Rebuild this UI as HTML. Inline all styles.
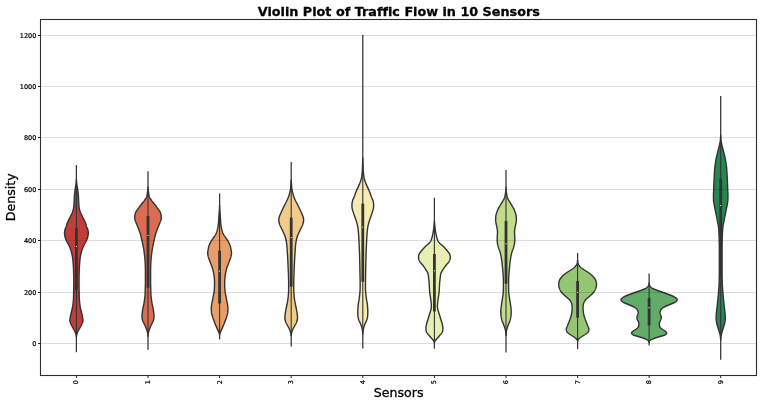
<!DOCTYPE html>
<html lang="en"><head><meta charset="utf-8"><title>Violin Plot of Traffic Flow in 10 Sensors</title>
<style>
html,body{margin:0;padding:0;background:#fff;}
body{width:763px;height:402px;overflow:hidden;}
svg{display:block;}
text{font-family:"DejaVu Sans","Liberation Sans",sans-serif;fill:#000;stroke:#000;stroke-width:0.3px;stroke-linejoin:round;font-variant-ligatures:none;}
.tk text{stroke-width:0.22px;}
</style></head><body>
<svg width="763" height="402" viewBox="0 0 763 402">
<rect width="763" height="402" fill="#fff"/>
<path d="M76.40,179.5 L76.37,180.0 L76.33,180.5 L76.28,181.0 L76.24,181.5 L76.19,182.0 L76.15,182.5 L76.10,183.0 L76.05,183.5 L76.00,184.0 L75.94,184.5 L75.87,185.0 L75.80,185.5 L75.71,186.0 L75.62,186.5 L75.53,187.0 L75.43,187.5 L75.34,188.0 L75.25,188.5 L75.17,189.0 L75.10,189.5 L75.03,190.0 L74.97,190.5 L74.90,191.0 L74.84,191.5 L74.77,192.0 L74.71,192.5 L74.66,193.0 L74.60,193.5 L74.55,194.0 L74.50,194.5 L74.46,195.0 L74.42,195.5 L74.39,196.0 L74.36,196.5 L74.33,197.0 L74.31,197.5 L74.29,198.0 L74.27,198.5 L74.25,199.0 L74.22,199.5 L74.20,200.0 L74.18,200.5 L74.15,201.0 L74.13,201.5 L74.11,202.0 L74.09,202.5 L74.06,203.0 L74.03,203.5 L74.00,204.0 L73.97,204.5 L73.93,205.0 L73.89,205.5 L73.84,206.0 L73.79,206.5 L73.73,207.0 L73.67,207.5 L73.60,208.0 L73.52,208.5 L73.41,209.0 L73.29,209.5 L73.15,210.0 L73.00,210.5 L72.84,211.0 L72.67,211.5 L72.50,212.0 L72.32,212.5 L72.12,213.0 L71.90,213.5 L71.67,214.0 L71.43,214.5 L71.19,215.0 L70.94,215.5 L70.70,216.0 L70.45,216.5 L70.19,217.0 L69.92,217.5 L69.64,218.0 L69.37,218.5 L69.10,219.0 L68.84,219.5 L68.60,220.0 L68.37,220.5 L68.14,221.0 L67.91,221.5 L67.69,222.0 L67.48,222.5 L67.28,223.0 L67.10,223.5 L66.94,224.0 L66.80,224.5 L66.67,225.0 L66.54,225.5 L66.40,226.0 L66.23,226.5 L66.03,227.0 L65.81,227.5 L65.59,228.0 L65.37,228.5 L65.18,229.0 L65.02,229.5 L64.90,230.0 L64.81,230.5 L64.72,231.0 L64.64,231.5 L64.57,232.0 L64.53,232.5 L64.50,233.0 L64.51,233.5 L64.54,234.0 L64.59,234.5 L64.67,235.0 L64.75,235.5 L64.85,236.0 L64.94,236.5 L65.05,237.0 L65.19,237.5 L65.34,238.0 L65.51,238.5 L65.69,239.0 L65.88,239.5 L66.08,240.0 L66.28,240.5 L66.52,241.0 L66.78,241.5 L67.06,242.0 L67.35,242.5 L67.64,243.0 L67.92,243.5 L68.20,244.0 L68.45,244.5 L68.70,245.0 L68.95,245.5 L69.19,246.0 L69.43,246.5 L69.66,247.0 L69.88,247.5 L70.08,248.0 L70.28,248.5 L70.46,249.0 L70.64,249.5 L70.82,250.0 L70.98,250.5 L71.14,251.0 L71.29,251.5 L71.42,252.0 L71.55,252.5 L71.67,253.0 L71.79,253.5 L71.91,254.0 L72.02,254.5 L72.12,255.0 L72.22,255.5 L72.32,256.0 L72.40,256.5 L72.49,257.0 L72.56,257.5 L72.63,258.0 L72.69,258.5 L72.75,259.0 L72.81,259.5 L72.86,260.0 L72.91,260.5 L72.96,261.0 L73.01,261.5 L73.05,262.0 L73.09,262.5 L73.13,263.0 L73.17,263.5 L73.20,264.0 L73.23,264.5 L73.27,265.0 L73.30,265.5 L73.33,266.0 L73.36,266.5 L73.39,267.0 L73.41,267.5 L73.44,268.0 L73.46,268.5 L73.49,269.0 L73.51,269.5 L73.53,270.0 L73.55,270.5 L73.57,271.0 L73.59,271.5 L73.60,272.0 L73.61,272.5 L73.63,273.0 L73.64,273.5 L73.65,274.0 L73.67,274.5 L73.68,275.0 L73.69,275.5 L73.70,276.0 L73.71,276.5 L73.72,277.0 L73.73,277.5 L73.74,278.0 L73.74,278.5 L73.75,279.0 L73.75,279.5 L73.75,280.0 L73.75,280.5 L73.75,281.0 L73.75,281.5 L73.75,282.0 L73.75,282.5 L73.75,283.0 L73.74,283.5 L73.74,284.0 L73.74,284.5 L73.74,285.0 L73.73,285.5 L73.73,286.0 L73.73,286.5 L73.72,287.0 L73.72,287.5 L73.72,288.0 L73.71,288.5 L73.71,289.0 L73.70,289.5 L73.70,290.0 L73.69,290.5 L73.68,291.0 L73.67,291.5 L73.66,292.0 L73.64,292.5 L73.63,293.0 L73.61,293.5 L73.60,294.0 L73.59,294.5 L73.58,295.0 L73.57,295.5 L73.56,296.0 L73.54,296.5 L73.53,297.0 L73.52,297.5 L73.50,298.0 L73.48,298.5 L73.45,299.0 L73.42,299.5 L73.38,300.0 L73.34,300.5 L73.29,301.0 L73.25,301.5 L73.20,302.0 L73.15,302.5 L73.10,303.0 L73.04,303.5 L72.98,304.0 L72.92,304.5 L72.85,305.0 L72.78,305.5 L72.70,306.0 L72.62,306.5 L72.53,307.0 L72.43,307.5 L72.33,308.0 L72.23,308.5 L72.12,309.0 L72.01,309.5 L71.90,310.0 L71.78,310.5 L71.66,311.0 L71.53,311.5 L71.40,312.0 L71.27,312.5 L71.14,313.0 L71.02,313.5 L70.90,314.0 L70.79,314.5 L70.68,315.0 L70.57,315.5 L70.46,316.0 L70.36,316.5 L70.27,317.0 L70.18,317.5 L70.10,318.0 L70.02,318.5 L69.94,319.0 L69.87,319.5 L69.82,320.0 L69.80,320.5 L69.84,321.0 L69.94,321.5 L70.09,322.0 L70.28,322.5 L70.49,323.0 L70.70,323.5 L70.90,324.0 L71.10,324.5 L71.33,325.0 L71.57,325.5 L71.83,326.0 L72.10,326.5 L72.36,327.0 L72.63,327.5 L72.90,328.0 L73.17,328.5 L73.47,329.0 L73.77,329.5 L74.07,330.0 L74.36,330.5 L74.64,331.0 L74.89,331.5 L75.10,332.0 L75.29,332.5 L75.48,333.0 L75.66,333.5 L75.83,334.0 L75.99,334.5 L76.12,335.0 L76.22,335.5 L76.30,336.0 L76.36,336.5 L76.40,337.0 L76.40,337.0 L76.44,336.5 L76.50,336.0 L76.58,335.5 L76.68,335.0 L76.81,334.5 L76.97,334.0 L77.14,333.5 L77.32,333.0 L77.51,332.5 L77.70,332.0 L77.91,331.5 L78.16,331.0 L78.44,330.5 L78.73,330.0 L79.03,329.5 L79.33,329.0 L79.63,328.5 L79.90,328.0 L80.17,327.5 L80.44,327.0 L80.70,326.5 L80.97,326.0 L81.23,325.5 L81.47,325.0 L81.70,324.5 L81.90,324.0 L82.10,323.5 L82.31,323.0 L82.52,322.5 L82.71,322.0 L82.86,321.5 L82.96,321.0 L83.00,320.5 L82.98,320.0 L82.93,319.5 L82.86,319.0 L82.78,318.5 L82.70,318.0 L82.62,317.5 L82.53,317.0 L82.44,316.5 L82.34,316.0 L82.23,315.5 L82.12,315.0 L82.01,314.5 L81.90,314.0 L81.78,313.5 L81.66,313.0 L81.53,312.5 L81.40,312.0 L81.27,311.5 L81.14,311.0 L81.02,310.5 L80.90,310.0 L80.79,309.5 L80.68,309.0 L80.57,308.5 L80.47,308.0 L80.37,307.5 L80.27,307.0 L80.18,306.5 L80.10,306.0 L80.02,305.5 L79.95,305.0 L79.88,304.5 L79.82,304.0 L79.76,303.5 L79.70,303.0 L79.65,302.5 L79.60,302.0 L79.55,301.5 L79.51,301.0 L79.46,300.5 L79.42,300.0 L79.38,299.5 L79.35,299.0 L79.32,298.5 L79.30,298.0 L79.28,297.5 L79.27,297.0 L79.26,296.5 L79.24,296.0 L79.23,295.5 L79.22,295.0 L79.21,294.5 L79.20,294.0 L79.19,293.5 L79.17,293.0 L79.16,292.5 L79.14,292.0 L79.13,291.5 L79.12,291.0 L79.11,290.5 L79.10,290.0 L79.10,289.5 L79.09,289.0 L79.09,288.5 L79.08,288.0 L79.08,287.5 L79.08,287.0 L79.07,286.5 L79.07,286.0 L79.07,285.5 L79.06,285.0 L79.06,284.5 L79.06,284.0 L79.06,283.5 L79.05,283.0 L79.05,282.5 L79.05,282.0 L79.05,281.5 L79.05,281.0 L79.05,280.5 L79.05,280.0 L79.05,279.5 L79.05,279.0 L79.06,278.5 L79.06,278.0 L79.07,277.5 L79.08,277.0 L79.09,276.5 L79.10,276.0 L79.11,275.5 L79.12,275.0 L79.13,274.5 L79.15,274.0 L79.16,273.5 L79.17,273.0 L79.19,272.5 L79.20,272.0 L79.21,271.5 L79.23,271.0 L79.25,270.5 L79.27,270.0 L79.29,269.5 L79.31,269.0 L79.34,268.5 L79.36,268.0 L79.39,267.5 L79.41,267.0 L79.44,266.5 L79.47,266.0 L79.50,265.5 L79.53,265.0 L79.57,264.5 L79.60,264.0 L79.63,263.5 L79.67,263.0 L79.71,262.5 L79.75,262.0 L79.79,261.5 L79.84,261.0 L79.89,260.5 L79.94,260.0 L79.99,259.5 L80.05,259.0 L80.11,258.5 L80.17,258.0 L80.24,257.5 L80.31,257.0 L80.40,256.5 L80.48,256.0 L80.58,255.5 L80.68,255.0 L80.78,254.5 L80.89,254.0 L81.01,253.5 L81.13,253.0 L81.25,252.5 L81.38,252.0 L81.51,251.5 L81.66,251.0 L81.82,250.5 L81.98,250.0 L82.16,249.5 L82.34,249.0 L82.52,248.5 L82.72,248.0 L82.92,247.5 L83.14,247.0 L83.37,246.5 L83.61,246.0 L83.85,245.5 L84.10,245.0 L84.35,244.5 L84.60,244.0 L84.88,243.5 L85.16,243.0 L85.45,242.5 L85.74,242.0 L86.02,241.5 L86.28,241.0 L86.52,240.5 L86.72,240.0 L86.92,239.5 L87.11,239.0 L87.29,238.5 L87.46,238.0 L87.61,237.5 L87.75,237.0 L87.86,236.5 L87.95,236.0 L88.05,235.5 L88.13,235.0 L88.21,234.5 L88.26,234.0 L88.29,233.5 L88.30,233.0 L88.27,232.5 L88.23,232.0 L88.16,231.5 L88.08,231.0 L87.99,230.5 L87.90,230.0 L87.78,229.5 L87.62,229.0 L87.43,228.5 L87.21,228.0 L86.99,227.5 L86.77,227.0 L86.57,226.5 L86.40,226.0 L86.26,225.5 L86.13,225.0 L86.00,224.5 L85.86,224.0 L85.70,223.5 L85.52,223.0 L85.32,222.5 L85.11,222.0 L84.89,221.5 L84.66,221.0 L84.43,220.5 L84.20,220.0 L83.96,219.5 L83.70,219.0 L83.43,218.5 L83.16,218.0 L82.88,217.5 L82.61,217.0 L82.35,216.5 L82.10,216.0 L81.86,215.5 L81.61,215.0 L81.37,214.5 L81.13,214.0 L80.90,213.5 L80.68,213.0 L80.48,212.5 L80.30,212.0 L80.13,211.5 L79.96,211.0 L79.80,210.5 L79.65,210.0 L79.51,209.5 L79.39,209.0 L79.28,208.5 L79.20,208.0 L79.13,207.5 L79.07,207.0 L79.01,206.5 L78.96,206.0 L78.91,205.5 L78.87,205.0 L78.83,204.5 L78.80,204.0 L78.77,203.5 L78.74,203.0 L78.71,202.5 L78.69,202.0 L78.67,201.5 L78.65,201.0 L78.62,200.5 L78.60,200.0 L78.58,199.5 L78.55,199.0 L78.53,198.5 L78.51,198.0 L78.49,197.5 L78.47,197.0 L78.44,196.5 L78.41,196.0 L78.38,195.5 L78.34,195.0 L78.30,194.5 L78.25,194.0 L78.20,193.5 L78.14,193.0 L78.09,192.5 L78.03,192.0 L77.96,191.5 L77.90,191.0 L77.83,190.5 L77.77,190.0 L77.70,189.5 L77.63,189.0 L77.55,188.5 L77.46,188.0 L77.37,187.5 L77.27,187.0 L77.18,186.5 L77.09,186.0 L77.00,185.5 L76.93,185.0 L76.86,184.5 L76.80,184.0 L76.75,183.5 L76.70,183.0 L76.65,182.5 L76.61,182.0 L76.56,181.5 L76.52,181.0 L76.47,180.5 L76.43,180.0 L76.40,179.5Z" fill="#c03d39" stroke="#333333" stroke-width="1.4" stroke-linejoin="round"/>
<path d="M148.00,187.3 L148.00,187.8 L147.97,188.3 L147.93,188.8 L147.89,189.3 L147.84,189.8 L147.77,190.3 L147.69,190.8 L147.61,191.3 L147.53,191.8 L147.46,192.3 L147.39,192.8 L147.33,193.3 L147.27,193.8 L147.20,194.3 L147.13,194.8 L147.05,195.3 L146.95,195.8 L146.82,196.3 L146.63,196.8 L146.40,197.3 L146.12,197.8 L145.81,198.3 L145.49,198.8 L145.16,199.3 L144.83,199.8 L144.50,200.3 L144.16,200.8 L143.80,201.3 L143.42,201.8 L143.03,202.3 L142.64,202.8 L142.24,203.3 L141.85,203.8 L141.47,204.3 L141.08,204.8 L140.68,205.3 L140.29,205.8 L139.89,206.3 L139.50,206.8 L139.12,207.3 L138.75,207.8 L138.38,208.3 L138.00,208.8 L137.61,209.3 L137.23,209.8 L136.87,210.3 L136.53,210.8 L136.23,211.3 L135.98,211.8 L135.78,212.3 L135.59,212.8 L135.40,213.3 L135.22,213.8 L135.06,214.3 L134.94,214.8 L134.85,215.3 L134.80,215.8 L134.80,216.3 L134.80,216.8 L134.80,217.3 L134.80,217.8 L134.80,218.3 L134.80,218.8 L134.82,219.3 L134.92,219.8 L135.09,220.3 L135.29,220.8 L135.51,221.3 L135.72,221.8 L135.91,222.3 L136.10,222.8 L136.30,223.3 L136.50,223.8 L136.70,224.3 L136.91,224.8 L137.12,225.3 L137.32,225.8 L137.52,226.3 L137.72,226.8 L137.93,227.3 L138.14,227.8 L138.34,228.3 L138.54,228.8 L138.74,229.3 L138.93,229.8 L139.11,230.3 L139.29,230.8 L139.47,231.3 L139.64,231.8 L139.81,232.3 L139.98,232.8 L140.14,233.3 L140.29,233.8 L140.44,234.3 L140.58,234.8 L140.72,235.3 L140.85,235.8 L140.99,236.3 L141.11,236.8 L141.24,237.3 L141.35,237.8 L141.47,238.3 L141.57,238.8 L141.67,239.3 L141.78,239.8 L141.88,240.3 L141.99,240.8 L142.10,241.3 L142.21,241.8 L142.33,242.3 L142.44,242.8 L142.56,243.3 L142.67,243.8 L142.78,244.3 L142.89,244.8 L143.00,245.3 L143.10,245.8 L143.20,246.3 L143.29,246.8 L143.38,247.3 L143.47,247.8 L143.55,248.3 L143.63,248.8 L143.71,249.3 L143.79,249.8 L143.86,250.3 L143.94,250.8 L144.01,251.3 L144.09,251.8 L144.16,252.3 L144.22,252.8 L144.29,253.3 L144.35,253.8 L144.42,254.3 L144.47,254.8 L144.53,255.3 L144.58,255.8 L144.63,256.3 L144.68,256.8 L144.72,257.3 L144.77,257.8 L144.82,258.3 L144.86,258.8 L144.90,259.3 L144.94,259.8 L144.98,260.3 L145.02,260.8 L145.06,261.3 L145.09,261.8 L145.12,262.3 L145.15,262.8 L145.17,263.3 L145.19,263.8 L145.21,264.3 L145.23,264.8 L145.25,265.3 L145.27,265.8 L145.28,266.3 L145.30,266.8 L145.32,267.3 L145.33,267.8 L145.35,268.3 L145.36,268.8 L145.37,269.3 L145.38,269.8 L145.39,270.3 L145.39,270.8 L145.40,271.3 L145.40,271.8 L145.40,272.3 L145.40,272.8 L145.40,273.3 L145.40,273.8 L145.40,274.3 L145.40,274.8 L145.40,275.3 L145.40,275.8 L145.40,276.3 L145.40,276.8 L145.40,277.3 L145.40,277.8 L145.40,278.3 L145.40,278.8 L145.40,279.3 L145.40,279.8 L145.40,280.3 L145.40,280.8 L145.40,281.3 L145.40,281.8 L145.40,282.3 L145.40,282.8 L145.39,283.3 L145.38,283.8 L145.37,284.3 L145.36,284.8 L145.35,285.3 L145.33,285.8 L145.32,286.3 L145.30,286.8 L145.28,287.3 L145.27,287.8 L145.25,288.3 L145.23,288.8 L145.22,289.3 L145.21,289.8 L145.19,290.3 L145.18,290.8 L145.17,291.3 L145.16,291.8 L145.15,292.3 L145.14,292.8 L145.12,293.3 L145.11,293.8 L145.09,294.3 L145.05,294.8 L145.01,295.3 L144.96,295.8 L144.90,296.3 L144.84,296.8 L144.78,297.3 L144.72,297.8 L144.67,298.3 L144.61,298.8 L144.55,299.3 L144.50,299.8 L144.43,300.3 L144.37,300.8 L144.30,301.3 L144.23,301.8 L144.15,302.3 L144.06,302.8 L143.97,303.3 L143.87,303.8 L143.76,304.3 L143.65,304.8 L143.54,305.3 L143.44,305.8 L143.34,306.3 L143.23,306.8 L143.13,307.3 L143.02,307.8 L142.91,308.3 L142.81,308.8 L142.72,309.3 L142.63,309.8 L142.55,310.3 L142.48,310.8 L142.41,311.3 L142.34,311.8 L142.27,312.3 L142.22,312.8 L142.16,313.3 L142.12,313.8 L142.08,314.3 L142.03,314.8 L142.00,315.3 L141.97,315.8 L141.95,316.3 L141.96,316.8 L141.99,317.3 L142.05,317.8 L142.14,318.3 L142.23,318.8 L142.34,319.3 L142.45,319.8 L142.57,320.3 L142.73,320.8 L142.91,321.3 L143.12,321.8 L143.34,322.3 L143.62,322.8 L143.91,323.3 L144.20,323.8 L144.44,324.3 L144.68,324.8 L144.90,325.3 L145.12,325.8 L145.33,326.3 L145.53,326.8 L145.73,327.3 L145.92,327.8 L146.12,328.3 L146.32,328.8 L146.51,329.3 L146.71,329.8 L146.90,330.3 L147.07,330.8 L147.23,331.3 L147.36,331.8 L147.46,332.3 L147.56,332.8 L147.66,333.3 L147.75,333.8 L147.83,334.3 L147.90,334.8 L147.95,335.3 L147.99,335.8 L148.00,336.3 L148.00,336.3 L148.01,335.8 L148.05,335.3 L148.10,334.8 L148.17,334.3 L148.25,333.8 L148.34,333.3 L148.44,332.8 L148.54,332.3 L148.64,331.8 L148.77,331.3 L148.93,330.8 L149.10,330.3 L149.29,329.8 L149.49,329.3 L149.68,328.8 L149.88,328.3 L150.08,327.8 L150.27,327.3 L150.47,326.8 L150.67,326.3 L150.88,325.8 L151.10,325.3 L151.32,324.8 L151.56,324.3 L151.80,323.8 L152.09,323.3 L152.38,322.8 L152.66,322.3 L152.88,321.8 L153.09,321.3 L153.27,320.8 L153.43,320.3 L153.55,319.8 L153.66,319.3 L153.77,318.8 L153.86,318.3 L153.95,317.8 L154.01,317.3 L154.04,316.8 L154.05,316.3 L154.03,315.8 L154.00,315.3 L153.97,314.8 L153.92,314.3 L153.88,313.8 L153.84,313.3 L153.78,312.8 L153.73,312.3 L153.66,311.8 L153.59,311.3 L153.52,310.8 L153.45,310.3 L153.37,309.8 L153.28,309.3 L153.19,308.8 L153.09,308.3 L152.98,307.8 L152.87,307.3 L152.77,306.8 L152.66,306.3 L152.56,305.8 L152.46,305.3 L152.35,304.8 L152.24,304.3 L152.13,303.8 L152.03,303.3 L151.94,302.8 L151.85,302.3 L151.77,301.8 L151.70,301.3 L151.63,300.8 L151.57,300.3 L151.50,299.8 L151.45,299.3 L151.39,298.8 L151.33,298.3 L151.28,297.8 L151.22,297.3 L151.16,296.8 L151.10,296.3 L151.04,295.8 L150.99,295.3 L150.95,294.8 L150.91,294.3 L150.89,293.8 L150.88,293.3 L150.86,292.8 L150.85,292.3 L150.84,291.8 L150.83,291.3 L150.82,290.8 L150.81,290.3 L150.79,289.8 L150.78,289.3 L150.77,288.8 L150.75,288.3 L150.73,287.8 L150.72,287.3 L150.70,286.8 L150.68,286.3 L150.67,285.8 L150.65,285.3 L150.64,284.8 L150.63,284.3 L150.62,283.8 L150.61,283.3 L150.60,282.8 L150.60,282.3 L150.60,281.8 L150.60,281.3 L150.60,280.8 L150.60,280.3 L150.60,279.8 L150.60,279.3 L150.60,278.8 L150.60,278.3 L150.60,277.8 L150.60,277.3 L150.60,276.8 L150.60,276.3 L150.60,275.8 L150.60,275.3 L150.60,274.8 L150.60,274.3 L150.60,273.8 L150.60,273.3 L150.60,272.8 L150.60,272.3 L150.60,271.8 L150.60,271.3 L150.61,270.8 L150.61,270.3 L150.62,269.8 L150.63,269.3 L150.64,268.8 L150.65,268.3 L150.67,267.8 L150.68,267.3 L150.70,266.8 L150.72,266.3 L150.73,265.8 L150.75,265.3 L150.77,264.8 L150.79,264.3 L150.81,263.8 L150.83,263.3 L150.85,262.8 L150.88,262.3 L150.91,261.8 L150.94,261.3 L150.98,260.8 L151.02,260.3 L151.06,259.8 L151.10,259.3 L151.14,258.8 L151.18,258.3 L151.23,257.8 L151.28,257.3 L151.32,256.8 L151.37,256.3 L151.42,255.8 L151.47,255.3 L151.53,254.8 L151.58,254.3 L151.65,253.8 L151.71,253.3 L151.78,252.8 L151.84,252.3 L151.91,251.8 L151.99,251.3 L152.06,250.8 L152.14,250.3 L152.21,249.8 L152.29,249.3 L152.37,248.8 L152.45,248.3 L152.53,247.8 L152.62,247.3 L152.71,246.8 L152.80,246.3 L152.90,245.8 L153.00,245.3 L153.11,244.8 L153.22,244.3 L153.33,243.8 L153.44,243.3 L153.56,242.8 L153.67,242.3 L153.79,241.8 L153.90,241.3 L154.01,240.8 L154.12,240.3 L154.22,239.8 L154.33,239.3 L154.43,238.8 L154.53,238.3 L154.65,237.8 L154.76,237.3 L154.89,236.8 L155.01,236.3 L155.15,235.8 L155.28,235.3 L155.42,234.8 L155.56,234.3 L155.71,233.8 L155.86,233.3 L156.02,232.8 L156.19,232.3 L156.36,231.8 L156.53,231.3 L156.71,230.8 L156.89,230.3 L157.07,229.8 L157.26,229.3 L157.46,228.8 L157.66,228.3 L157.86,227.8 L158.07,227.3 L158.28,226.8 L158.48,226.3 L158.68,225.8 L158.88,225.3 L159.09,224.8 L159.30,224.3 L159.50,223.8 L159.70,223.3 L159.90,222.8 L160.09,222.3 L160.28,221.8 L160.49,221.3 L160.71,220.8 L160.91,220.3 L161.08,219.8 L161.18,219.3 L161.20,218.8 L161.20,218.3 L161.20,217.8 L161.20,217.3 L161.20,216.8 L161.20,216.3 L161.20,215.8 L161.15,215.3 L161.06,214.8 L160.94,214.3 L160.78,213.8 L160.60,213.3 L160.41,212.8 L160.22,212.3 L160.02,211.8 L159.77,211.3 L159.47,210.8 L159.13,210.3 L158.77,209.8 L158.39,209.3 L158.00,208.8 L157.62,208.3 L157.25,207.8 L156.88,207.3 L156.50,206.8 L156.11,206.3 L155.71,205.8 L155.32,205.3 L154.92,204.8 L154.53,204.3 L154.15,203.8 L153.76,203.3 L153.36,202.8 L152.97,202.3 L152.58,201.8 L152.20,201.3 L151.84,200.8 L151.50,200.3 L151.17,199.8 L150.84,199.3 L150.51,198.8 L150.19,198.3 L149.88,197.8 L149.60,197.3 L149.37,196.8 L149.18,196.3 L149.05,195.8 L148.95,195.3 L148.87,194.8 L148.80,194.3 L148.73,193.8 L148.67,193.3 L148.61,192.8 L148.54,192.3 L148.47,191.8 L148.39,191.3 L148.31,190.8 L148.23,190.3 L148.16,189.8 L148.11,189.3 L148.07,188.8 L148.03,188.3 L148.00,187.8 L148.00,187.3Z" fill="#db6c51" stroke="#333333" stroke-width="1.4" stroke-linejoin="round"/>
<path d="M219.60,205.4 L219.58,205.9 L219.57,206.4 L219.55,206.9 L219.53,207.4 L219.50,207.9 L219.48,208.4 L219.45,208.9 L219.42,209.4 L219.39,209.9 L219.35,210.4 L219.31,210.9 L219.27,211.4 L219.23,211.9 L219.19,212.4 L219.14,212.9 L219.10,213.4 L219.06,213.9 L219.02,214.4 L218.98,214.9 L218.94,215.4 L218.91,215.9 L218.87,216.4 L218.85,216.9 L218.82,217.4 L218.79,217.9 L218.77,218.4 L218.74,218.9 L218.71,219.4 L218.69,219.9 L218.66,220.4 L218.63,220.9 L218.59,221.4 L218.56,221.9 L218.52,222.4 L218.47,222.9 L218.42,223.4 L218.37,223.9 L218.31,224.4 L218.25,224.9 L218.18,225.4 L218.11,225.9 L218.04,226.4 L217.96,226.9 L217.87,227.4 L217.78,227.9 L217.67,228.4 L217.56,228.9 L217.45,229.4 L217.33,229.9 L217.19,230.4 L217.05,230.9 L216.90,231.4 L216.73,231.9 L216.56,232.4 L216.37,232.9 L216.16,233.4 L215.95,233.9 L215.70,234.4 L215.42,234.9 L215.11,235.4 L214.77,235.9 L214.41,236.4 L214.06,236.9 L213.70,237.4 L213.37,237.9 L213.04,238.4 L212.70,238.9 L212.35,239.4 L212.01,239.9 L211.67,240.4 L211.35,240.9 L211.04,241.4 L210.75,241.9 L210.49,242.4 L210.22,242.9 L209.97,243.4 L209.72,243.9 L209.49,244.4 L209.28,244.9 L209.09,245.4 L208.93,245.9 L208.79,246.4 L208.67,246.9 L208.56,247.4 L208.46,247.9 L208.37,248.4 L208.28,248.9 L208.20,249.4 L208.12,249.9 L208.03,250.4 L207.94,250.9 L207.86,251.4 L207.78,251.9 L207.73,252.4 L207.70,252.9 L207.71,253.4 L207.75,253.9 L207.82,254.4 L207.90,254.9 L207.99,255.4 L208.08,255.9 L208.18,256.4 L208.31,256.9 L208.46,257.4 L208.63,257.9 L208.81,258.4 L209.00,258.9 L209.18,259.4 L209.36,259.9 L209.54,260.4 L209.73,260.9 L209.93,261.4 L210.12,261.9 L210.32,262.4 L210.52,262.9 L210.72,263.4 L210.91,263.9 L211.10,264.4 L211.29,264.9 L211.49,265.4 L211.68,265.9 L211.86,266.4 L212.04,266.9 L212.21,267.4 L212.37,267.9 L212.52,268.4 L212.66,268.9 L212.79,269.4 L212.92,269.9 L213.04,270.4 L213.16,270.9 L213.27,271.4 L213.38,271.9 L213.48,272.4 L213.58,272.9 L213.68,273.4 L213.78,273.9 L213.87,274.4 L213.95,274.9 L214.02,275.4 L214.09,275.9 L214.15,276.4 L214.20,276.9 L214.26,277.4 L214.30,277.9 L214.35,278.4 L214.39,278.9 L214.42,279.4 L214.45,279.9 L214.47,280.4 L214.48,280.9 L214.50,281.4 L214.52,281.9 L214.53,282.4 L214.54,282.9 L214.55,283.4 L214.55,283.9 L214.55,284.4 L214.54,284.9 L214.52,285.4 L214.51,285.9 L214.48,286.4 L214.46,286.9 L214.43,287.4 L214.41,287.9 L214.38,288.4 L214.35,288.9 L214.31,289.4 L214.27,289.9 L214.22,290.4 L214.17,290.9 L214.12,291.4 L214.06,291.9 L214.00,292.4 L213.92,292.9 L213.83,293.4 L213.73,293.9 L213.63,294.4 L213.52,294.9 L213.42,295.4 L213.32,295.9 L213.23,296.4 L213.13,296.9 L213.04,297.4 L212.95,297.9 L212.85,298.4 L212.76,298.9 L212.67,299.4 L212.57,299.9 L212.47,300.4 L212.36,300.9 L212.26,301.4 L212.15,301.9 L212.04,302.4 L211.94,302.9 L211.85,303.4 L211.76,303.9 L211.69,304.4 L211.61,304.9 L211.54,305.4 L211.47,305.9 L211.40,306.4 L211.35,306.9 L211.32,307.4 L211.30,307.9 L211.30,308.4 L211.31,308.9 L211.31,309.4 L211.32,309.9 L211.34,310.4 L211.36,310.9 L211.37,311.4 L211.40,311.9 L211.43,312.4 L211.50,312.9 L211.59,313.4 L211.71,313.9 L211.84,314.4 L211.98,314.9 L212.13,315.4 L212.27,315.9 L212.42,316.4 L212.58,316.9 L212.76,317.4 L212.94,317.9 L213.14,318.4 L213.33,318.9 L213.53,319.4 L213.71,319.9 L213.89,320.4 L214.07,320.9 L214.25,321.4 L214.43,321.9 L214.60,322.4 L214.78,322.9 L214.97,323.4 L215.16,323.9 L215.36,324.4 L215.56,324.9 L215.77,325.4 L215.98,325.9 L216.20,326.4 L216.42,326.9 L216.64,327.4 L216.86,327.9 L217.08,328.4 L217.31,328.9 L217.55,329.4 L217.79,329.9 L218.02,330.4 L218.25,330.9 L218.46,331.4 L218.66,331.9 L218.85,332.4 L219.05,332.9 L219.25,333.4 L219.42,333.9 L219.55,334.4 L219.60,334.9 L219.60,334.9 L219.65,334.4 L219.78,333.9 L219.95,333.4 L220.15,332.9 L220.35,332.4 L220.54,331.9 L220.74,331.4 L220.95,330.9 L221.18,330.4 L221.41,329.9 L221.65,329.4 L221.89,328.9 L222.12,328.4 L222.34,327.9 L222.56,327.4 L222.78,326.9 L223.00,326.4 L223.22,325.9 L223.43,325.4 L223.64,324.9 L223.84,324.4 L224.04,323.9 L224.23,323.4 L224.42,322.9 L224.60,322.4 L224.77,321.9 L224.95,321.4 L225.13,320.9 L225.31,320.4 L225.49,319.9 L225.67,319.4 L225.87,318.9 L226.06,318.4 L226.26,317.9 L226.44,317.4 L226.62,316.9 L226.78,316.4 L226.93,315.9 L227.07,315.4 L227.22,314.9 L227.36,314.4 L227.49,313.9 L227.61,313.4 L227.70,312.9 L227.77,312.4 L227.80,311.9 L227.83,311.4 L227.84,310.9 L227.86,310.4 L227.88,309.9 L227.89,309.4 L227.89,308.9 L227.90,308.4 L227.90,307.9 L227.88,307.4 L227.85,306.9 L227.80,306.4 L227.73,305.9 L227.66,305.4 L227.59,304.9 L227.51,304.4 L227.44,303.9 L227.35,303.4 L227.26,302.9 L227.16,302.4 L227.05,301.9 L226.94,301.4 L226.84,300.9 L226.73,300.4 L226.63,299.9 L226.53,299.4 L226.44,298.9 L226.35,298.4 L226.25,297.9 L226.16,297.4 L226.07,296.9 L225.97,296.4 L225.88,295.9 L225.78,295.4 L225.68,294.9 L225.57,294.4 L225.47,293.9 L225.37,293.4 L225.28,292.9 L225.20,292.4 L225.14,291.9 L225.08,291.4 L225.03,290.9 L224.98,290.4 L224.93,289.9 L224.89,289.4 L224.85,288.9 L224.82,288.4 L224.79,287.9 L224.77,287.4 L224.74,286.9 L224.72,286.4 L224.69,285.9 L224.68,285.4 L224.66,284.9 L224.65,284.4 L224.65,283.9 L224.65,283.4 L224.66,282.9 L224.67,282.4 L224.68,281.9 L224.70,281.4 L224.72,280.9 L224.73,280.4 L224.75,279.9 L224.78,279.4 L224.81,278.9 L224.85,278.4 L224.90,277.9 L224.94,277.4 L225.00,276.9 L225.05,276.4 L225.11,275.9 L225.18,275.4 L225.25,274.9 L225.33,274.4 L225.42,273.9 L225.52,273.4 L225.62,272.9 L225.72,272.4 L225.82,271.9 L225.93,271.4 L226.04,270.9 L226.16,270.4 L226.28,269.9 L226.41,269.4 L226.54,268.9 L226.68,268.4 L226.83,267.9 L226.99,267.4 L227.16,266.9 L227.34,266.4 L227.52,265.9 L227.71,265.4 L227.91,264.9 L228.10,264.4 L228.29,263.9 L228.48,263.4 L228.68,262.9 L228.88,262.4 L229.08,261.9 L229.27,261.4 L229.47,260.9 L229.66,260.4 L229.84,259.9 L230.02,259.4 L230.20,258.9 L230.39,258.4 L230.57,257.9 L230.74,257.4 L230.89,256.9 L231.02,256.4 L231.12,255.9 L231.21,255.4 L231.30,254.9 L231.38,254.4 L231.45,253.9 L231.49,253.4 L231.50,252.9 L231.47,252.4 L231.42,251.9 L231.34,251.4 L231.26,250.9 L231.17,250.4 L231.08,249.9 L231.00,249.4 L230.92,248.9 L230.83,248.4 L230.74,247.9 L230.64,247.4 L230.53,246.9 L230.41,246.4 L230.27,245.9 L230.11,245.4 L229.92,244.9 L229.71,244.4 L229.48,243.9 L229.23,243.4 L228.98,242.9 L228.71,242.4 L228.45,241.9 L228.16,241.4 L227.85,240.9 L227.53,240.4 L227.19,239.9 L226.85,239.4 L226.50,238.9 L226.16,238.4 L225.83,237.9 L225.50,237.4 L225.14,236.9 L224.79,236.4 L224.43,235.9 L224.09,235.4 L223.78,234.9 L223.50,234.4 L223.25,233.9 L223.04,233.4 L222.83,232.9 L222.64,232.4 L222.47,231.9 L222.30,231.4 L222.15,230.9 L222.01,230.4 L221.87,229.9 L221.75,229.4 L221.64,228.9 L221.53,228.4 L221.42,227.9 L221.33,227.4 L221.24,226.9 L221.16,226.4 L221.09,225.9 L221.02,225.4 L220.95,224.9 L220.89,224.4 L220.83,223.9 L220.78,223.4 L220.73,222.9 L220.68,222.4 L220.64,221.9 L220.61,221.4 L220.57,220.9 L220.54,220.4 L220.51,219.9 L220.49,219.4 L220.46,218.9 L220.43,218.4 L220.41,217.9 L220.38,217.4 L220.35,216.9 L220.33,216.4 L220.29,215.9 L220.26,215.4 L220.22,214.9 L220.18,214.4 L220.14,213.9 L220.10,213.4 L220.06,212.9 L220.01,212.4 L219.97,211.9 L219.93,211.4 L219.89,210.9 L219.85,210.4 L219.81,209.9 L219.78,209.4 L219.75,208.9 L219.72,208.4 L219.70,207.9 L219.67,207.4 L219.65,206.9 L219.63,206.4 L219.62,205.9 L219.60,205.4Z" fill="#e99e69" stroke="#333333" stroke-width="1.4" stroke-linejoin="round"/>
<path d="M291.20,180.0 L291.18,180.5 L291.15,181.0 L291.12,181.5 L291.08,182.0 L291.05,182.5 L291.02,183.0 L290.98,183.5 L290.95,184.0 L290.92,184.5 L290.88,185.0 L290.85,185.5 L290.81,186.0 L290.77,186.5 L290.73,187.0 L290.69,187.5 L290.64,188.0 L290.58,188.5 L290.53,189.0 L290.46,189.5 L290.37,190.0 L290.26,190.5 L290.14,191.0 L290.02,191.5 L289.90,192.0 L289.78,192.5 L289.65,193.0 L289.53,193.5 L289.39,194.0 L289.25,194.5 L289.11,195.0 L288.96,195.5 L288.80,196.0 L288.63,196.5 L288.45,197.0 L288.26,197.5 L288.06,198.0 L287.85,198.5 L287.64,199.0 L287.42,199.5 L287.20,200.0 L286.97,200.5 L286.72,201.0 L286.47,201.5 L286.20,202.0 L285.94,202.5 L285.67,203.0 L285.41,203.5 L285.15,204.0 L284.90,204.5 L284.64,205.0 L284.39,205.5 L284.14,206.0 L283.89,206.5 L283.64,207.0 L283.39,207.5 L283.15,208.0 L282.91,208.5 L282.68,209.0 L282.44,209.5 L282.21,210.0 L281.98,210.5 L281.76,211.0 L281.53,211.5 L281.30,212.0 L281.07,212.5 L280.84,213.0 L280.62,213.5 L280.40,214.0 L280.19,214.5 L279.98,215.0 L279.78,215.5 L279.60,216.0 L279.42,216.5 L279.25,217.0 L279.10,217.5 L279.00,218.0 L278.94,218.5 L278.88,219.0 L278.84,219.5 L278.81,220.0 L278.80,220.5 L278.83,221.0 L278.89,221.5 L278.98,222.0 L279.10,222.5 L279.23,223.0 L279.37,223.5 L279.51,224.0 L279.66,224.5 L279.83,225.0 L280.04,225.5 L280.27,226.0 L280.51,226.5 L280.76,227.0 L281.01,227.5 L281.26,228.0 L281.49,228.5 L281.73,229.0 L281.97,229.5 L282.21,230.0 L282.45,230.5 L282.69,231.0 L282.93,231.5 L283.16,232.0 L283.39,232.5 L283.63,233.0 L283.86,233.5 L284.10,234.0 L284.33,234.5 L284.55,235.0 L284.76,235.5 L284.95,236.0 L285.11,236.5 L285.27,237.0 L285.42,237.5 L285.56,238.0 L285.69,238.5 L285.81,239.0 L285.93,239.5 L286.04,240.0 L286.14,240.5 L286.24,241.0 L286.33,241.5 L286.42,242.0 L286.50,242.5 L286.57,243.0 L286.64,243.5 L286.70,244.0 L286.75,244.5 L286.80,245.0 L286.85,245.5 L286.89,246.0 L286.93,246.5 L286.97,247.0 L287.00,247.5 L287.04,248.0 L287.07,248.5 L287.11,249.0 L287.14,249.5 L287.17,250.0 L287.20,250.5 L287.23,251.0 L287.27,251.5 L287.30,252.0 L287.33,252.5 L287.37,253.0 L287.40,253.5 L287.44,254.0 L287.47,254.5 L287.50,255.0 L287.53,255.5 L287.57,256.0 L287.60,256.5 L287.63,257.0 L287.66,257.5 L287.69,258.0 L287.72,258.5 L287.75,259.0 L287.77,259.5 L287.80,260.0 L287.83,260.5 L287.85,261.0 L287.87,261.5 L287.90,262.0 L287.92,262.5 L287.94,263.0 L287.96,263.5 L287.98,264.0 L288.00,264.5 L288.02,265.0 L288.04,265.5 L288.07,266.0 L288.09,266.5 L288.11,267.0 L288.13,267.5 L288.15,268.0 L288.17,268.5 L288.20,269.0 L288.22,269.5 L288.24,270.0 L288.27,270.5 L288.29,271.0 L288.32,271.5 L288.34,272.0 L288.37,272.5 L288.39,273.0 L288.41,273.5 L288.43,274.0 L288.45,274.5 L288.47,275.0 L288.49,275.5 L288.50,276.0 L288.51,276.5 L288.53,277.0 L288.54,277.5 L288.55,278.0 L288.57,278.5 L288.58,279.0 L288.59,279.5 L288.60,280.0 L288.61,280.5 L288.62,281.0 L288.63,281.5 L288.64,282.0 L288.64,282.5 L288.65,283.0 L288.65,283.5 L288.65,284.0 L288.65,284.5 L288.65,285.0 L288.65,285.5 L288.65,286.0 L288.65,286.5 L288.65,287.0 L288.65,287.5 L288.65,288.0 L288.65,288.5 L288.65,289.0 L288.65,289.5 L288.65,290.0 L288.65,290.5 L288.63,291.0 L288.61,291.5 L288.58,292.0 L288.55,292.5 L288.52,293.0 L288.48,293.5 L288.45,294.0 L288.41,294.5 L288.37,295.0 L288.33,295.5 L288.28,296.0 L288.22,296.5 L288.17,297.0 L288.11,297.5 L288.05,298.0 L287.99,298.5 L287.92,299.0 L287.85,299.5 L287.78,300.0 L287.70,300.5 L287.62,301.0 L287.53,301.5 L287.45,302.0 L287.36,302.5 L287.27,303.0 L287.17,303.5 L287.06,304.0 L286.96,304.5 L286.86,305.0 L286.75,305.5 L286.65,306.0 L286.55,306.5 L286.45,307.0 L286.34,307.5 L286.24,308.0 L286.14,308.5 L286.04,309.0 L285.94,309.5 L285.85,310.0 L285.76,310.5 L285.67,311.0 L285.58,311.5 L285.49,312.0 L285.40,312.5 L285.33,313.0 L285.26,313.5 L285.20,314.0 L285.15,314.5 L285.10,315.0 L285.04,315.5 L285.00,316.0 L284.96,316.5 L284.93,317.0 L284.91,317.5 L284.90,318.0 L284.92,318.5 L284.97,319.0 L285.05,319.5 L285.16,320.0 L285.28,320.5 L285.41,321.0 L285.55,321.5 L285.70,322.0 L285.87,322.5 L286.10,323.0 L286.35,323.5 L286.64,324.0 L286.94,324.5 L287.24,325.0 L287.53,325.5 L287.80,326.0 L288.06,326.5 L288.33,327.0 L288.60,327.5 L288.87,328.0 L289.13,328.5 L289.37,329.0 L289.60,329.5 L289.80,330.0 L289.99,330.5 L290.17,331.0 L290.35,331.5 L290.51,332.0 L290.66,332.5 L290.80,333.0 L290.91,333.5 L291.00,334.0 L291.07,334.5 L291.14,335.0 L291.20,335.5 L291.20,335.5 L291.26,335.0 L291.33,334.5 L291.40,334.0 L291.49,333.5 L291.60,333.0 L291.74,332.5 L291.89,332.0 L292.05,331.5 L292.23,331.0 L292.41,330.5 L292.60,330.0 L292.80,329.5 L293.03,329.0 L293.27,328.5 L293.53,328.0 L293.80,327.5 L294.07,327.0 L294.34,326.5 L294.60,326.0 L294.87,325.5 L295.16,325.0 L295.46,324.5 L295.76,324.0 L296.05,323.5 L296.30,323.0 L296.53,322.5 L296.70,322.0 L296.85,321.5 L296.99,321.0 L297.12,320.5 L297.24,320.0 L297.35,319.5 L297.43,319.0 L297.48,318.5 L297.50,318.0 L297.49,317.5 L297.47,317.0 L297.44,316.5 L297.40,316.0 L297.36,315.5 L297.30,315.0 L297.25,314.5 L297.20,314.0 L297.14,313.5 L297.07,313.0 L297.00,312.5 L296.91,312.0 L296.82,311.5 L296.73,311.0 L296.64,310.5 L296.55,310.0 L296.46,309.5 L296.36,309.0 L296.26,308.5 L296.16,308.0 L296.06,307.5 L295.95,307.0 L295.85,306.5 L295.75,306.0 L295.65,305.5 L295.54,305.0 L295.44,304.5 L295.34,304.0 L295.23,303.5 L295.13,303.0 L295.04,302.5 L294.95,302.0 L294.87,301.5 L294.78,301.0 L294.70,300.5 L294.62,300.0 L294.55,299.5 L294.48,299.0 L294.41,298.5 L294.35,298.0 L294.29,297.5 L294.23,297.0 L294.18,296.5 L294.12,296.0 L294.07,295.5 L294.03,295.0 L293.99,294.5 L293.95,294.0 L293.92,293.5 L293.88,293.0 L293.85,292.5 L293.82,292.0 L293.79,291.5 L293.77,291.0 L293.75,290.5 L293.75,290.0 L293.75,289.5 L293.75,289.0 L293.75,288.5 L293.75,288.0 L293.75,287.5 L293.75,287.0 L293.75,286.5 L293.75,286.0 L293.75,285.5 L293.75,285.0 L293.75,284.5 L293.75,284.0 L293.75,283.5 L293.75,283.0 L293.76,282.5 L293.76,282.0 L293.77,281.5 L293.78,281.0 L293.79,280.5 L293.80,280.0 L293.81,279.5 L293.82,279.0 L293.83,278.5 L293.85,278.0 L293.86,277.5 L293.87,277.0 L293.89,276.5 L293.90,276.0 L293.91,275.5 L293.93,275.0 L293.95,274.5 L293.97,274.0 L293.99,273.5 L294.01,273.0 L294.03,272.5 L294.06,272.0 L294.08,271.5 L294.11,271.0 L294.13,270.5 L294.16,270.0 L294.18,269.5 L294.20,269.0 L294.23,268.5 L294.25,268.0 L294.27,267.5 L294.29,267.0 L294.31,266.5 L294.33,266.0 L294.36,265.5 L294.38,265.0 L294.40,264.5 L294.42,264.0 L294.44,263.5 L294.46,263.0 L294.48,262.5 L294.50,262.0 L294.53,261.5 L294.55,261.0 L294.57,260.5 L294.60,260.0 L294.63,259.5 L294.65,259.0 L294.68,258.5 L294.71,258.0 L294.74,257.5 L294.77,257.0 L294.80,256.5 L294.83,256.0 L294.87,255.5 L294.90,255.0 L294.93,254.5 L294.96,254.0 L295.00,253.5 L295.03,253.0 L295.07,252.5 L295.10,252.0 L295.13,251.5 L295.17,251.0 L295.20,250.5 L295.23,250.0 L295.26,249.5 L295.29,249.0 L295.33,248.5 L295.36,248.0 L295.40,247.5 L295.43,247.0 L295.47,246.5 L295.51,246.0 L295.55,245.5 L295.60,245.0 L295.65,244.5 L295.70,244.0 L295.76,243.5 L295.83,243.0 L295.90,242.5 L295.98,242.0 L296.07,241.5 L296.16,241.0 L296.26,240.5 L296.36,240.0 L296.47,239.5 L296.59,239.0 L296.71,238.5 L296.84,238.0 L296.98,237.5 L297.13,237.0 L297.29,236.5 L297.45,236.0 L297.64,235.5 L297.85,235.0 L298.07,234.5 L298.30,234.0 L298.54,233.5 L298.77,233.0 L299.01,232.5 L299.24,232.0 L299.47,231.5 L299.71,231.0 L299.95,230.5 L300.19,230.0 L300.43,229.5 L300.67,229.0 L300.91,228.5 L301.14,228.0 L301.39,227.5 L301.64,227.0 L301.89,226.5 L302.13,226.0 L302.36,225.5 L302.57,225.0 L302.74,224.5 L302.89,224.0 L303.03,223.5 L303.17,223.0 L303.30,222.5 L303.42,222.0 L303.51,221.5 L303.57,221.0 L303.60,220.5 L303.59,220.0 L303.56,219.5 L303.52,219.0 L303.46,218.5 L303.40,218.0 L303.30,217.5 L303.15,217.0 L302.98,216.5 L302.80,216.0 L302.62,215.5 L302.42,215.0 L302.21,214.5 L302.00,214.0 L301.78,213.5 L301.56,213.0 L301.33,212.5 L301.10,212.0 L300.87,211.5 L300.64,211.0 L300.42,210.5 L300.19,210.0 L299.96,209.5 L299.72,209.0 L299.49,208.5 L299.25,208.0 L299.01,207.5 L298.76,207.0 L298.51,206.5 L298.26,206.0 L298.01,205.5 L297.76,205.0 L297.50,204.5 L297.25,204.0 L296.99,203.5 L296.73,203.0 L296.46,202.5 L296.20,202.0 L295.93,201.5 L295.68,201.0 L295.43,200.5 L295.20,200.0 L294.98,199.5 L294.76,199.0 L294.55,198.5 L294.34,198.0 L294.14,197.5 L293.95,197.0 L293.77,196.5 L293.60,196.0 L293.44,195.5 L293.29,195.0 L293.15,194.5 L293.01,194.0 L292.87,193.5 L292.75,193.0 L292.62,192.5 L292.50,192.0 L292.38,191.5 L292.26,191.0 L292.14,190.5 L292.03,190.0 L291.94,189.5 L291.87,189.0 L291.82,188.5 L291.76,188.0 L291.71,187.5 L291.67,187.0 L291.63,186.5 L291.59,186.0 L291.55,185.5 L291.52,185.0 L291.48,184.5 L291.45,184.0 L291.42,183.5 L291.38,183.0 L291.35,182.5 L291.32,182.0 L291.28,181.5 L291.25,181.0 L291.22,180.5 L291.20,180.0Z" fill="#f0cb8a" stroke="#333333" stroke-width="1.4" stroke-linejoin="round"/>
<path d="M362.80,158.1 L362.79,158.6 L362.77,159.1 L362.76,159.6 L362.75,160.1 L362.73,160.6 L362.72,161.1 L362.70,161.6 L362.69,162.1 L362.67,162.6 L362.65,163.1 L362.64,163.6 L362.62,164.1 L362.60,164.6 L362.58,165.1 L362.56,165.6 L362.55,166.1 L362.53,166.6 L362.51,167.1 L362.50,167.6 L362.48,168.1 L362.46,168.6 L362.44,169.1 L362.42,169.6 L362.39,170.1 L362.36,170.6 L362.32,171.1 L362.27,171.6 L362.22,172.1 L362.16,172.6 L362.10,173.1 L362.05,173.6 L361.99,174.1 L361.93,174.6 L361.88,175.1 L361.83,175.6 L361.77,176.1 L361.71,176.6 L361.64,177.1 L361.57,177.6 L361.48,178.1 L361.38,178.6 L361.25,179.1 L361.11,179.6 L360.96,180.1 L360.79,180.6 L360.62,181.1 L360.44,181.6 L360.26,182.1 L360.08,182.6 L359.88,183.1 L359.67,183.6 L359.45,184.1 L359.23,184.6 L359.00,185.1 L358.78,185.6 L358.56,186.1 L358.33,186.6 L358.11,187.1 L357.88,187.6 L357.65,188.1 L357.42,188.6 L357.19,189.1 L356.97,189.6 L356.76,190.1 L356.55,190.6 L356.34,191.1 L356.13,191.6 L355.93,192.1 L355.73,192.6 L355.53,193.1 L355.34,193.6 L355.16,194.1 L355.00,194.6 L354.85,195.1 L354.69,195.6 L354.51,196.1 L354.33,196.6 L354.13,197.1 L353.92,197.6 L353.71,198.1 L353.45,198.6 L353.19,199.1 L352.95,199.6 L352.77,200.1 L352.63,200.6 L352.49,201.1 L352.36,201.6 L352.25,202.1 L352.16,202.6 L352.08,203.1 L352.03,203.6 L352.00,204.1 L351.98,204.6 L351.96,205.1 L351.95,205.6 L351.95,206.1 L351.97,206.6 L352.01,207.1 L352.06,207.6 L352.11,208.1 L352.19,208.6 L352.30,209.1 L352.44,209.6 L352.59,210.1 L352.75,210.6 L352.91,211.1 L353.08,211.6 L353.23,212.1 L353.38,212.6 L353.54,213.1 L353.70,213.6 L353.86,214.1 L354.03,214.6 L354.19,215.1 L354.36,215.6 L354.53,216.1 L354.71,216.6 L354.89,217.1 L355.08,217.6 L355.27,218.1 L355.46,218.6 L355.64,219.1 L355.82,219.6 L355.98,220.1 L356.15,220.6 L356.31,221.1 L356.47,221.6 L356.62,222.1 L356.77,222.6 L356.92,223.1 L357.05,223.6 L357.17,224.1 L357.29,224.6 L357.41,225.1 L357.51,225.6 L357.62,226.1 L357.72,226.6 L357.81,227.1 L357.89,227.6 L357.96,228.1 L358.03,228.6 L358.10,229.1 L358.16,229.6 L358.21,230.1 L358.27,230.6 L358.32,231.1 L358.36,231.6 L358.41,232.1 L358.45,232.6 L358.49,233.1 L358.53,233.6 L358.57,234.1 L358.61,234.6 L358.64,235.1 L358.67,235.6 L358.71,236.1 L358.74,236.6 L358.77,237.1 L358.80,237.6 L358.83,238.1 L358.85,238.6 L358.88,239.1 L358.91,239.6 L358.94,240.1 L358.96,240.6 L358.99,241.1 L359.01,241.6 L359.04,242.1 L359.06,242.6 L359.09,243.1 L359.11,243.6 L359.13,244.1 L359.16,244.6 L359.18,245.1 L359.20,245.6 L359.22,246.1 L359.24,246.6 L359.26,247.1 L359.28,247.6 L359.30,248.1 L359.32,248.6 L359.34,249.1 L359.36,249.6 L359.38,250.1 L359.40,250.6 L359.42,251.1 L359.44,251.6 L359.46,252.1 L359.47,252.6 L359.49,253.1 L359.51,253.6 L359.52,254.1 L359.54,254.6 L359.56,255.1 L359.57,255.6 L359.59,256.1 L359.60,256.6 L359.62,257.1 L359.63,257.6 L359.65,258.1 L359.66,258.6 L359.68,259.1 L359.69,259.6 L359.70,260.1 L359.72,260.6 L359.73,261.1 L359.74,261.6 L359.75,262.1 L359.76,262.6 L359.77,263.1 L359.79,263.6 L359.80,264.1 L359.81,264.6 L359.82,265.1 L359.83,265.6 L359.84,266.1 L359.85,266.6 L359.86,267.1 L359.87,267.6 L359.88,268.1 L359.89,268.6 L359.90,269.1 L359.91,269.6 L359.91,270.1 L359.92,270.6 L359.93,271.1 L359.94,271.6 L359.95,272.1 L359.96,272.6 L359.97,273.1 L359.98,273.6 L359.99,274.1 L360.00,274.6 L360.01,275.1 L360.03,275.6 L360.04,276.1 L360.05,276.6 L360.06,277.1 L360.07,277.6 L360.08,278.1 L360.09,278.6 L360.10,279.1 L360.11,279.6 L360.12,280.1 L360.12,280.6 L360.13,281.1 L360.14,281.6 L360.14,282.1 L360.15,282.6 L360.15,283.1 L360.15,283.6 L360.15,284.1 L360.15,284.6 L360.15,285.1 L360.15,285.6 L360.15,286.1 L360.15,286.6 L360.15,287.1 L360.15,287.6 L360.15,288.1 L360.14,288.6 L360.13,289.1 L360.10,289.6 L360.07,290.1 L360.04,290.6 L360.00,291.1 L359.96,291.6 L359.92,292.1 L359.88,292.6 L359.84,293.1 L359.79,293.6 L359.73,294.1 L359.67,294.6 L359.61,295.1 L359.55,295.6 L359.49,296.1 L359.43,296.6 L359.37,297.1 L359.31,297.6 L359.25,298.1 L359.19,298.6 L359.12,299.1 L359.06,299.6 L358.99,300.1 L358.90,300.6 L358.81,301.1 L358.71,301.6 L358.62,302.1 L358.52,302.6 L358.43,303.1 L358.35,303.6 L358.29,304.1 L358.23,304.6 L358.18,305.1 L358.13,305.6 L358.08,306.1 L358.04,306.6 L358.01,307.1 L357.97,307.6 L357.94,308.1 L357.92,308.6 L357.89,309.1 L357.87,309.6 L357.84,310.1 L357.83,310.6 L357.81,311.1 L357.80,311.6 L357.80,312.1 L357.80,312.6 L357.81,313.1 L357.83,313.6 L357.85,314.1 L357.87,314.6 L357.90,315.1 L357.92,315.6 L357.96,316.1 L358.01,316.6 L358.08,317.1 L358.17,317.6 L358.27,318.1 L358.38,318.6 L358.51,319.1 L358.67,319.6 L358.84,320.1 L359.05,320.6 L359.30,321.1 L359.56,321.6 L359.79,322.1 L360.01,322.6 L360.23,323.1 L360.44,323.6 L360.65,324.1 L360.85,324.6 L361.04,325.1 L361.22,325.6 L361.38,326.1 L361.54,326.6 L361.70,327.1 L361.85,327.6 L361.99,328.1 L362.12,328.6 L362.24,329.1 L362.34,329.6 L362.41,330.1 L362.48,330.6 L362.54,331.1 L362.60,331.6 L362.65,332.1 L362.69,332.6 L362.74,333.1 L362.77,333.6 L362.80,334.1 L362.80,334.1 L362.83,333.6 L362.86,333.1 L362.91,332.6 L362.95,332.1 L363.00,331.6 L363.06,331.1 L363.12,330.6 L363.19,330.1 L363.26,329.6 L363.36,329.1 L363.48,328.6 L363.61,328.1 L363.75,327.6 L363.90,327.1 L364.06,326.6 L364.22,326.1 L364.38,325.6 L364.56,325.1 L364.75,324.6 L364.95,324.1 L365.16,323.6 L365.37,323.1 L365.59,322.6 L365.81,322.1 L366.04,321.6 L366.30,321.1 L366.55,320.6 L366.76,320.1 L366.93,319.6 L367.09,319.1 L367.22,318.6 L367.33,318.1 L367.43,317.6 L367.52,317.1 L367.59,316.6 L367.64,316.1 L367.68,315.6 L367.70,315.1 L367.73,314.6 L367.75,314.1 L367.77,313.6 L367.79,313.1 L367.80,312.6 L367.80,312.1 L367.80,311.6 L367.79,311.1 L367.77,310.6 L367.76,310.1 L367.73,309.6 L367.71,309.1 L367.68,308.6 L367.66,308.1 L367.63,307.6 L367.59,307.1 L367.56,306.6 L367.52,306.1 L367.47,305.6 L367.42,305.1 L367.37,304.6 L367.31,304.1 L367.25,303.6 L367.17,303.1 L367.08,302.6 L366.98,302.1 L366.89,301.6 L366.79,301.1 L366.70,300.6 L366.61,300.1 L366.54,299.6 L366.48,299.1 L366.41,298.6 L366.35,298.1 L366.29,297.6 L366.23,297.1 L366.17,296.6 L366.11,296.1 L366.05,295.6 L365.99,295.1 L365.93,294.6 L365.87,294.1 L365.81,293.6 L365.76,293.1 L365.72,292.6 L365.68,292.1 L365.64,291.6 L365.60,291.1 L365.56,290.6 L365.53,290.1 L365.50,289.6 L365.47,289.1 L365.46,288.6 L365.45,288.1 L365.45,287.6 L365.45,287.1 L365.45,286.6 L365.45,286.1 L365.45,285.6 L365.45,285.1 L365.45,284.6 L365.45,284.1 L365.45,283.6 L365.45,283.1 L365.45,282.6 L365.46,282.1 L365.46,281.6 L365.47,281.1 L365.48,280.6 L365.48,280.1 L365.49,279.6 L365.50,279.1 L365.51,278.6 L365.52,278.1 L365.53,277.6 L365.54,277.1 L365.55,276.6 L365.56,276.1 L365.57,275.6 L365.59,275.1 L365.60,274.6 L365.61,274.1 L365.62,273.6 L365.63,273.1 L365.64,272.6 L365.65,272.1 L365.66,271.6 L365.67,271.1 L365.68,270.6 L365.69,270.1 L365.69,269.6 L365.70,269.1 L365.71,268.6 L365.72,268.1 L365.73,267.6 L365.74,267.1 L365.75,266.6 L365.76,266.1 L365.77,265.6 L365.78,265.1 L365.79,264.6 L365.80,264.1 L365.81,263.6 L365.83,263.1 L365.84,262.6 L365.85,262.1 L365.86,261.6 L365.87,261.1 L365.88,260.6 L365.90,260.1 L365.91,259.6 L365.92,259.1 L365.94,258.6 L365.95,258.1 L365.97,257.6 L365.98,257.1 L366.00,256.6 L366.01,256.1 L366.03,255.6 L366.04,255.1 L366.06,254.6 L366.08,254.1 L366.09,253.6 L366.11,253.1 L366.13,252.6 L366.14,252.1 L366.16,251.6 L366.18,251.1 L366.20,250.6 L366.22,250.1 L366.24,249.6 L366.26,249.1 L366.28,248.6 L366.30,248.1 L366.32,247.6 L366.34,247.1 L366.36,246.6 L366.38,246.1 L366.40,245.6 L366.42,245.1 L366.44,244.6 L366.47,244.1 L366.49,243.6 L366.51,243.1 L366.54,242.6 L366.56,242.1 L366.59,241.6 L366.61,241.1 L366.64,240.6 L366.66,240.1 L366.69,239.6 L366.72,239.1 L366.75,238.6 L366.77,238.1 L366.80,237.6 L366.83,237.1 L366.86,236.6 L366.89,236.1 L366.93,235.6 L366.96,235.1 L366.99,234.6 L367.03,234.1 L367.07,233.6 L367.11,233.1 L367.15,232.6 L367.19,232.1 L367.24,231.6 L367.28,231.1 L367.33,230.6 L367.39,230.1 L367.44,229.6 L367.50,229.1 L367.57,228.6 L367.64,228.1 L367.71,227.6 L367.79,227.1 L367.88,226.6 L367.98,226.1 L368.09,225.6 L368.19,225.1 L368.31,224.6 L368.43,224.1 L368.55,223.6 L368.68,223.1 L368.83,222.6 L368.98,222.1 L369.13,221.6 L369.29,221.1 L369.45,220.6 L369.62,220.1 L369.78,219.6 L369.96,219.1 L370.14,218.6 L370.33,218.1 L370.52,217.6 L370.71,217.1 L370.89,216.6 L371.07,216.1 L371.24,215.6 L371.41,215.1 L371.57,214.6 L371.74,214.1 L371.90,213.6 L372.06,213.1 L372.22,212.6 L372.37,212.1 L372.52,211.6 L372.69,211.1 L372.85,210.6 L373.01,210.1 L373.16,209.6 L373.30,209.1 L373.41,208.6 L373.49,208.1 L373.54,207.6 L373.59,207.1 L373.63,206.6 L373.65,206.1 L373.65,205.6 L373.64,205.1 L373.62,204.6 L373.60,204.1 L373.57,203.6 L373.52,203.1 L373.44,202.6 L373.35,202.1 L373.24,201.6 L373.11,201.1 L372.97,200.6 L372.83,200.1 L372.65,199.6 L372.41,199.1 L372.15,198.6 L371.89,198.1 L371.68,197.6 L371.47,197.1 L371.27,196.6 L371.09,196.1 L370.91,195.6 L370.75,195.1 L370.60,194.6 L370.44,194.1 L370.26,193.6 L370.07,193.1 L369.87,192.6 L369.67,192.1 L369.47,191.6 L369.26,191.1 L369.05,190.6 L368.84,190.1 L368.63,189.6 L368.41,189.1 L368.18,188.6 L367.95,188.1 L367.72,187.6 L367.49,187.1 L367.27,186.6 L367.04,186.1 L366.82,185.6 L366.60,185.1 L366.37,184.6 L366.15,184.1 L365.93,183.6 L365.72,183.1 L365.52,182.6 L365.34,182.1 L365.16,181.6 L364.98,181.1 L364.81,180.6 L364.64,180.1 L364.49,179.6 L364.35,179.1 L364.22,178.6 L364.12,178.1 L364.03,177.6 L363.96,177.1 L363.89,176.6 L363.83,176.1 L363.77,175.6 L363.72,175.1 L363.67,174.6 L363.61,174.1 L363.55,173.6 L363.50,173.1 L363.44,172.6 L363.38,172.1 L363.33,171.6 L363.28,171.1 L363.24,170.6 L363.21,170.1 L363.18,169.6 L363.16,169.1 L363.14,168.6 L363.12,168.1 L363.10,167.6 L363.09,167.1 L363.07,166.6 L363.05,166.1 L363.04,165.6 L363.02,165.1 L363.00,164.6 L362.98,164.1 L362.96,163.6 L362.95,163.1 L362.93,162.6 L362.91,162.1 L362.90,161.6 L362.88,161.1 L362.87,160.6 L362.85,160.1 L362.84,159.6 L362.83,159.1 L362.81,158.6 L362.80,158.1Z" fill="#f6ebb0" stroke="#333333" stroke-width="1.4" stroke-linejoin="round"/>
<path d="M434.40,221.3 L434.36,221.8 L434.32,222.3 L434.28,222.8 L434.23,223.3 L434.19,223.8 L434.15,224.3 L434.10,224.8 L434.05,225.3 L434.00,225.8 L433.95,226.3 L433.90,226.8 L433.84,227.3 L433.78,227.8 L433.72,228.3 L433.66,228.8 L433.59,229.3 L433.53,229.8 L433.46,230.3 L433.38,230.8 L433.30,231.3 L433.22,231.8 L433.13,232.3 L433.04,232.8 L432.94,233.3 L432.84,233.8 L432.74,234.3 L432.63,234.8 L432.52,235.3 L432.41,235.8 L432.30,236.3 L432.18,236.8 L432.05,237.3 L431.91,237.8 L431.77,238.3 L431.62,238.8 L431.45,239.3 L431.27,239.8 L431.08,240.3 L430.86,240.8 L430.58,241.3 L430.24,241.8 L429.88,242.3 L429.46,242.8 L429.00,243.3 L428.50,243.8 L427.98,244.3 L427.38,244.8 L426.76,245.3 L426.17,245.8 L425.64,246.3 L425.14,246.8 L424.66,247.3 L424.19,247.8 L423.72,248.3 L423.26,248.8 L422.81,249.3 L422.37,249.8 L421.95,250.3 L421.54,250.8 L421.14,251.3 L420.75,251.8 L420.37,252.3 L419.97,252.8 L419.60,253.3 L419.29,253.8 L419.08,254.3 L418.89,254.8 L418.73,255.3 L418.62,255.8 L418.57,256.3 L418.54,256.8 L418.51,257.3 L418.50,257.8 L418.54,258.3 L418.64,258.8 L418.77,259.3 L418.93,259.8 L419.11,260.3 L419.36,260.8 L419.65,261.3 L419.97,261.8 L420.30,262.3 L420.68,262.8 L421.09,263.3 L421.52,263.8 L421.97,264.3 L422.41,264.8 L422.84,265.3 L423.25,265.8 L423.62,266.3 L423.99,266.8 L424.35,267.3 L424.70,267.8 L425.04,268.3 L425.37,268.8 L425.68,269.3 L425.98,269.8 L426.28,270.3 L426.58,270.8 L426.88,271.3 L427.17,271.8 L427.45,272.3 L427.70,272.8 L427.90,273.3 L428.05,273.8 L428.16,274.3 L428.24,274.8 L428.31,275.3 L428.37,275.8 L428.42,276.3 L428.47,276.8 L428.52,277.3 L428.58,277.8 L428.64,278.3 L428.71,278.8 L428.78,279.3 L428.85,279.8 L428.92,280.3 L428.98,280.8 L429.04,281.3 L429.08,281.8 L429.12,282.3 L429.15,282.8 L429.18,283.3 L429.20,283.8 L429.22,284.3 L429.24,284.8 L429.26,285.3 L429.29,285.8 L429.32,286.3 L429.34,286.8 L429.37,287.3 L429.40,287.8 L429.42,288.3 L429.45,288.8 L429.48,289.3 L429.51,289.8 L429.54,290.3 L429.58,290.8 L429.62,291.3 L429.66,291.8 L429.70,292.3 L429.75,292.8 L429.81,293.3 L429.88,293.8 L429.96,294.3 L430.04,294.8 L430.13,295.3 L430.21,295.8 L430.29,296.3 L430.37,296.8 L430.44,297.3 L430.52,297.8 L430.60,298.3 L430.68,298.8 L430.76,299.3 L430.83,299.8 L430.90,300.3 L430.97,300.8 L431.03,301.3 L431.08,301.8 L431.13,302.3 L431.17,302.8 L431.21,303.3 L431.25,303.8 L431.29,304.3 L431.32,304.8 L431.34,305.3 L431.35,305.8 L431.35,306.3 L431.33,306.8 L431.29,307.3 L431.24,307.8 L431.19,308.3 L431.13,308.8 L431.05,309.3 L430.93,309.8 L430.78,310.3 L430.61,310.8 L430.43,311.3 L430.26,311.8 L430.11,312.3 L429.96,312.8 L429.81,313.3 L429.66,313.8 L429.51,314.3 L429.36,314.8 L429.21,315.3 L429.06,315.8 L428.91,316.3 L428.76,316.8 L428.61,317.3 L428.46,317.8 L428.31,318.3 L428.16,318.8 L428.01,319.3 L427.86,319.8 L427.71,320.3 L427.55,320.8 L427.39,321.3 L427.22,321.8 L427.07,322.3 L426.91,322.8 L426.77,323.3 L426.65,323.8 L426.53,324.3 L426.41,324.8 L426.30,325.3 L426.18,325.8 L426.08,326.3 L426.00,326.8 L425.93,327.3 L425.90,327.8 L425.90,328.3 L425.92,328.8 L425.94,329.3 L425.98,329.8 L426.02,330.3 L426.08,330.8 L426.16,331.3 L426.36,331.8 L426.65,332.3 L427.00,332.8 L427.38,333.3 L427.76,333.8 L428.12,334.3 L428.50,334.8 L428.92,335.3 L429.33,335.8 L429.75,336.3 L430.17,336.8 L430.60,337.3 L431.03,337.8 L431.46,338.3 L431.93,338.8 L432.40,339.3 L432.85,339.8 L433.24,340.3 L433.56,340.8 L433.82,341.3 L434.06,341.8 L434.27,342.3 L434.40,342.8 L434.40,342.8 L434.53,342.3 L434.74,341.8 L434.98,341.3 L435.24,340.8 L435.56,340.3 L435.95,339.8 L436.40,339.3 L436.87,338.8 L437.34,338.3 L437.77,337.8 L438.20,337.3 L438.63,336.8 L439.05,336.3 L439.47,335.8 L439.88,335.3 L440.30,334.8 L440.68,334.3 L441.04,333.8 L441.42,333.3 L441.80,332.8 L442.15,332.3 L442.44,331.8 L442.64,331.3 L442.72,330.8 L442.78,330.3 L442.82,329.8 L442.86,329.3 L442.88,328.8 L442.90,328.3 L442.90,327.8 L442.87,327.3 L442.80,326.8 L442.72,326.3 L442.62,325.8 L442.50,325.3 L442.39,324.8 L442.27,324.3 L442.15,323.8 L442.03,323.3 L441.89,322.8 L441.73,322.3 L441.58,321.8 L441.41,321.3 L441.25,320.8 L441.09,320.3 L440.94,319.8 L440.79,319.3 L440.64,318.8 L440.49,318.3 L440.34,317.8 L440.19,317.3 L440.04,316.8 L439.89,316.3 L439.74,315.8 L439.59,315.3 L439.44,314.8 L439.29,314.3 L439.14,313.8 L438.99,313.3 L438.84,312.8 L438.69,312.3 L438.54,311.8 L438.37,311.3 L438.19,310.8 L438.02,310.3 L437.87,309.8 L437.75,309.3 L437.67,308.8 L437.61,308.3 L437.56,307.8 L437.51,307.3 L437.47,306.8 L437.45,306.3 L437.45,305.8 L437.46,305.3 L437.48,304.8 L437.51,304.3 L437.55,303.8 L437.59,303.3 L437.63,302.8 L437.67,302.3 L437.72,301.8 L437.77,301.3 L437.83,300.8 L437.90,300.3 L437.97,299.8 L438.04,299.3 L438.12,298.8 L438.20,298.3 L438.28,297.8 L438.36,297.3 L438.43,296.8 L438.51,296.3 L438.59,295.8 L438.67,295.3 L438.76,294.8 L438.84,294.3 L438.92,293.8 L438.99,293.3 L439.05,292.8 L439.10,292.3 L439.14,291.8 L439.18,291.3 L439.22,290.8 L439.26,290.3 L439.29,289.8 L439.32,289.3 L439.35,288.8 L439.38,288.3 L439.40,287.8 L439.43,287.3 L439.46,286.8 L439.48,286.3 L439.51,285.8 L439.54,285.3 L439.56,284.8 L439.58,284.3 L439.60,283.8 L439.62,283.3 L439.65,282.8 L439.68,282.3 L439.72,281.8 L439.76,281.3 L439.82,280.8 L439.88,280.3 L439.95,279.8 L440.02,279.3 L440.09,278.8 L440.16,278.3 L440.22,277.8 L440.28,277.3 L440.33,276.8 L440.38,276.3 L440.43,275.8 L440.49,275.3 L440.56,274.8 L440.64,274.3 L440.75,273.8 L440.90,273.3 L441.10,272.8 L441.35,272.3 L441.63,271.8 L441.92,271.3 L442.22,270.8 L442.52,270.3 L442.82,269.8 L443.12,269.3 L443.43,268.8 L443.76,268.3 L444.10,267.8 L444.45,267.3 L444.81,266.8 L445.18,266.3 L445.55,265.8 L445.96,265.3 L446.39,264.8 L446.83,264.3 L447.28,263.8 L447.71,263.3 L448.12,262.8 L448.50,262.3 L448.83,261.8 L449.15,261.3 L449.44,260.8 L449.69,260.3 L449.87,259.8 L450.03,259.3 L450.16,258.8 L450.26,258.3 L450.30,257.8 L450.29,257.3 L450.26,256.8 L450.23,256.3 L450.18,255.8 L450.07,255.3 L449.91,254.8 L449.72,254.3 L449.51,253.8 L449.20,253.3 L448.83,252.8 L448.43,252.3 L448.05,251.8 L447.66,251.3 L447.26,250.8 L446.85,250.3 L446.43,249.8 L445.99,249.3 L445.54,248.8 L445.08,248.3 L444.61,247.8 L444.14,247.3 L443.66,246.8 L443.16,246.3 L442.63,245.8 L442.04,245.3 L441.42,244.8 L440.82,244.3 L440.30,243.8 L439.80,243.3 L439.34,242.8 L438.92,242.3 L438.56,241.8 L438.22,241.3 L437.94,240.8 L437.72,240.3 L437.53,239.8 L437.35,239.3 L437.18,238.8 L437.03,238.3 L436.89,237.8 L436.75,237.3 L436.62,236.8 L436.50,236.3 L436.39,235.8 L436.28,235.3 L436.17,234.8 L436.06,234.3 L435.96,233.8 L435.86,233.3 L435.76,232.8 L435.67,232.3 L435.58,231.8 L435.50,231.3 L435.42,230.8 L435.34,230.3 L435.27,229.8 L435.21,229.3 L435.14,228.8 L435.08,228.3 L435.02,227.8 L434.96,227.3 L434.90,226.8 L434.85,226.3 L434.80,225.8 L434.75,225.3 L434.70,224.8 L434.65,224.3 L434.61,223.8 L434.57,223.3 L434.52,222.8 L434.48,222.3 L434.44,221.8 L434.40,221.3Z" fill="#e7f0b0" stroke="#333333" stroke-width="1.4" stroke-linejoin="round"/>
<path d="M506.00,187.4 L506.00,187.9 L505.98,188.4 L505.96,188.9 L505.93,189.4 L505.91,189.9 L505.87,190.4 L505.82,190.9 L505.77,191.4 L505.70,191.9 L505.62,192.4 L505.54,192.9 L505.45,193.4 L505.37,193.9 L505.28,194.4 L505.18,194.9 L505.08,195.4 L504.98,195.9 L504.86,196.4 L504.73,196.9 L504.59,197.4 L504.43,197.9 L504.25,198.4 L504.03,198.9 L503.78,199.4 L503.50,199.9 L503.21,200.4 L502.90,200.9 L502.60,201.4 L502.31,201.9 L502.02,202.4 L501.72,202.9 L501.42,203.4 L501.11,203.9 L500.81,204.4 L500.50,204.9 L500.20,205.4 L499.91,205.9 L499.62,206.4 L499.32,206.9 L499.02,207.4 L498.73,207.9 L498.44,208.4 L498.17,208.9 L497.92,209.4 L497.69,209.9 L497.49,210.4 L497.29,210.9 L497.11,211.4 L496.93,211.9 L496.77,212.4 L496.61,212.9 L496.46,213.4 L496.33,213.9 L496.19,214.4 L496.06,214.9 L495.95,215.4 L495.86,215.9 L495.81,216.4 L495.77,216.9 L495.74,217.4 L495.71,217.9 L495.67,218.4 L495.64,218.9 L495.61,219.4 L495.60,219.9 L495.61,220.4 L495.65,220.9 L495.71,221.4 L495.80,221.9 L495.89,222.4 L495.99,222.9 L496.09,223.4 L496.18,223.9 L496.27,224.4 L496.37,224.9 L496.48,225.4 L496.59,225.9 L496.70,226.4 L496.80,226.9 L496.90,227.4 L496.98,227.9 L497.06,228.4 L497.15,228.9 L497.23,229.4 L497.31,229.9 L497.38,230.4 L497.44,230.9 L497.48,231.4 L497.50,231.9 L497.50,232.4 L497.48,232.9 L497.45,233.4 L497.42,233.9 L497.39,234.4 L497.36,234.9 L497.33,235.4 L497.30,235.9 L497.29,236.4 L497.27,236.9 L497.25,237.4 L497.24,237.9 L497.22,238.4 L497.21,238.9 L497.20,239.4 L497.20,239.9 L497.21,240.4 L497.22,240.9 L497.26,241.4 L497.30,241.9 L497.35,242.4 L497.41,242.9 L497.47,243.4 L497.54,243.9 L497.61,244.4 L497.72,244.9 L497.84,245.4 L497.97,245.9 L498.11,246.4 L498.25,246.9 L498.40,247.4 L498.57,247.9 L498.75,248.4 L498.96,248.9 L499.17,249.4 L499.37,249.9 L499.53,250.4 L499.70,250.9 L499.85,251.4 L500.00,251.9 L500.14,252.4 L500.28,252.9 L500.40,253.4 L500.53,253.9 L500.64,254.4 L500.75,254.9 L500.86,255.4 L500.96,255.9 L501.06,256.4 L501.15,256.9 L501.25,257.4 L501.33,257.9 L501.42,258.4 L501.50,258.9 L501.58,259.4 L501.66,259.9 L501.74,260.4 L501.81,260.9 L501.87,261.4 L501.94,261.9 L502.00,262.4 L502.05,262.9 L502.10,263.4 L502.15,263.9 L502.20,264.4 L502.24,264.9 L502.29,265.4 L502.34,265.9 L502.39,266.4 L502.44,266.9 L502.49,267.4 L502.55,267.9 L502.60,268.4 L502.65,268.9 L502.70,269.4 L502.74,269.9 L502.78,270.4 L502.82,270.9 L502.86,271.4 L502.90,271.9 L502.94,272.4 L502.97,272.9 L503.01,273.4 L503.04,273.9 L503.08,274.4 L503.11,274.9 L503.15,275.4 L503.19,275.9 L503.22,276.4 L503.25,276.9 L503.28,277.4 L503.30,277.9 L503.31,278.4 L503.32,278.9 L503.34,279.4 L503.35,279.9 L503.36,280.4 L503.37,280.9 L503.38,281.4 L503.38,281.9 L503.39,282.4 L503.40,282.9 L503.40,283.4 L503.40,283.9 L503.40,284.4 L503.40,284.9 L503.40,285.4 L503.40,285.9 L503.40,286.4 L503.40,286.9 L503.40,287.4 L503.40,287.9 L503.40,288.4 L503.39,288.9 L503.38,289.4 L503.37,289.9 L503.35,290.4 L503.33,290.9 L503.30,291.4 L503.28,291.9 L503.25,292.4 L503.22,292.9 L503.17,293.4 L503.12,293.9 L503.06,294.4 L503.00,294.9 L502.93,295.4 L502.86,295.9 L502.79,296.4 L502.72,296.9 L502.64,297.4 L502.55,297.9 L502.47,298.4 L502.38,298.9 L502.30,299.4 L502.22,299.9 L502.14,300.4 L502.06,300.9 L501.98,301.4 L501.91,301.9 L501.83,302.4 L501.76,302.9 L501.69,303.4 L501.61,303.9 L501.54,304.4 L501.46,304.9 L501.39,305.4 L501.31,305.9 L501.24,306.4 L501.17,306.9 L501.11,307.4 L501.06,307.9 L501.02,308.4 L500.97,308.9 L500.93,309.4 L500.89,309.9 L500.86,310.4 L500.83,310.9 L500.81,311.4 L500.80,311.9 L500.80,312.4 L500.82,312.9 L500.84,313.4 L500.87,313.9 L500.91,314.4 L500.95,314.9 L500.99,315.4 L501.04,315.9 L501.09,316.4 L501.16,316.9 L501.25,317.4 L501.34,317.9 L501.45,318.4 L501.57,318.9 L501.69,319.4 L501.82,319.9 L501.97,320.4 L502.13,320.9 L502.33,321.4 L502.53,321.9 L502.74,322.4 L502.96,322.9 L503.17,323.4 L503.36,323.9 L503.55,324.4 L503.74,324.9 L503.92,325.4 L504.11,325.9 L504.29,326.4 L504.46,326.9 L504.62,327.4 L504.77,327.9 L504.91,328.4 L505.06,328.9 L505.20,329.4 L505.33,329.9 L505.46,330.4 L505.57,330.9 L505.66,331.4 L505.74,331.9 L505.79,332.4 L505.84,332.9 L505.89,333.4 L505.92,333.9 L505.96,334.4 L505.99,334.9 L506.00,335.4 L506.00,335.4 L506.01,334.9 L506.04,334.4 L506.08,333.9 L506.11,333.4 L506.16,332.9 L506.21,332.4 L506.26,331.9 L506.34,331.4 L506.43,330.9 L506.54,330.4 L506.67,329.9 L506.80,329.4 L506.94,328.9 L507.09,328.4 L507.23,327.9 L507.38,327.4 L507.54,326.9 L507.71,326.4 L507.89,325.9 L508.08,325.4 L508.26,324.9 L508.45,324.4 L508.64,323.9 L508.83,323.4 L509.04,322.9 L509.26,322.4 L509.47,321.9 L509.67,321.4 L509.87,320.9 L510.03,320.4 L510.18,319.9 L510.31,319.4 L510.43,318.9 L510.55,318.4 L510.66,317.9 L510.75,317.4 L510.84,316.9 L510.91,316.4 L510.96,315.9 L511.01,315.4 L511.05,314.9 L511.09,314.4 L511.13,313.9 L511.16,313.4 L511.18,312.9 L511.20,312.4 L511.20,311.9 L511.19,311.4 L511.17,310.9 L511.14,310.4 L511.11,309.9 L511.07,309.4 L511.03,308.9 L510.98,308.4 L510.94,307.9 L510.89,307.4 L510.83,306.9 L510.76,306.4 L510.69,305.9 L510.61,305.4 L510.54,304.9 L510.46,304.4 L510.39,303.9 L510.31,303.4 L510.24,302.9 L510.17,302.4 L510.09,301.9 L510.02,301.4 L509.94,300.9 L509.86,300.4 L509.78,299.9 L509.70,299.4 L509.62,298.9 L509.53,298.4 L509.45,297.9 L509.36,297.4 L509.28,296.9 L509.21,296.4 L509.14,295.9 L509.07,295.4 L509.00,294.9 L508.94,294.4 L508.88,293.9 L508.83,293.4 L508.78,292.9 L508.75,292.4 L508.72,291.9 L508.70,291.4 L508.67,290.9 L508.65,290.4 L508.63,289.9 L508.62,289.4 L508.61,288.9 L508.60,288.4 L508.60,287.9 L508.60,287.4 L508.60,286.9 L508.60,286.4 L508.60,285.9 L508.60,285.4 L508.60,284.9 L508.60,284.4 L508.60,283.9 L508.60,283.4 L508.60,282.9 L508.61,282.4 L508.62,281.9 L508.62,281.4 L508.63,280.9 L508.64,280.4 L508.65,279.9 L508.66,279.4 L508.68,278.9 L508.69,278.4 L508.70,277.9 L508.72,277.4 L508.75,276.9 L508.78,276.4 L508.81,275.9 L508.85,275.4 L508.89,274.9 L508.92,274.4 L508.96,273.9 L508.99,273.4 L509.03,272.9 L509.06,272.4 L509.10,271.9 L509.14,271.4 L509.18,270.9 L509.22,270.4 L509.26,269.9 L509.30,269.4 L509.35,268.9 L509.40,268.4 L509.45,267.9 L509.51,267.4 L509.56,266.9 L509.61,266.4 L509.66,265.9 L509.71,265.4 L509.76,264.9 L509.80,264.4 L509.85,263.9 L509.90,263.4 L509.95,262.9 L510.00,262.4 L510.06,261.9 L510.13,261.4 L510.19,260.9 L510.26,260.4 L510.34,259.9 L510.42,259.4 L510.50,258.9 L510.58,258.4 L510.67,257.9 L510.75,257.4 L510.85,256.9 L510.94,256.4 L511.04,255.9 L511.14,255.4 L511.25,254.9 L511.36,254.4 L511.47,253.9 L511.60,253.4 L511.72,252.9 L511.86,252.4 L512.00,251.9 L512.15,251.4 L512.30,250.9 L512.47,250.4 L512.63,249.9 L512.83,249.4 L513.04,248.9 L513.25,248.4 L513.43,247.9 L513.60,247.4 L513.75,246.9 L513.89,246.4 L514.03,245.9 L514.16,245.4 L514.28,244.9 L514.39,244.4 L514.46,243.9 L514.53,243.4 L514.59,242.9 L514.65,242.4 L514.70,241.9 L514.74,241.4 L514.78,240.9 L514.79,240.4 L514.80,239.9 L514.80,239.4 L514.79,238.9 L514.78,238.4 L514.76,237.9 L514.75,237.4 L514.73,236.9 L514.71,236.4 L514.70,235.9 L514.67,235.4 L514.64,234.9 L514.61,234.4 L514.58,233.9 L514.55,233.4 L514.52,232.9 L514.50,232.4 L514.50,231.9 L514.52,231.4 L514.56,230.9 L514.62,230.4 L514.69,229.9 L514.77,229.4 L514.85,228.9 L514.94,228.4 L515.02,227.9 L515.10,227.4 L515.20,226.9 L515.30,226.4 L515.41,225.9 L515.52,225.4 L515.63,224.9 L515.73,224.4 L515.82,223.9 L515.91,223.4 L516.01,222.9 L516.11,222.4 L516.20,221.9 L516.29,221.4 L516.35,220.9 L516.39,220.4 L516.40,219.9 L516.39,219.4 L516.36,218.9 L516.33,218.4 L516.29,217.9 L516.26,217.4 L516.23,216.9 L516.19,216.4 L516.14,215.9 L516.05,215.4 L515.94,214.9 L515.81,214.4 L515.67,213.9 L515.54,213.4 L515.39,212.9 L515.23,212.4 L515.07,211.9 L514.89,211.4 L514.71,210.9 L514.51,210.4 L514.31,209.9 L514.08,209.4 L513.83,208.9 L513.56,208.4 L513.27,207.9 L512.98,207.4 L512.68,206.9 L512.38,206.4 L512.09,205.9 L511.80,205.4 L511.50,204.9 L511.19,204.4 L510.89,203.9 L510.58,203.4 L510.28,202.9 L509.98,202.4 L509.69,201.9 L509.40,201.4 L509.10,200.9 L508.79,200.4 L508.50,199.9 L508.22,199.4 L507.97,198.9 L507.75,198.4 L507.57,197.9 L507.41,197.4 L507.27,196.9 L507.14,196.4 L507.02,195.9 L506.92,195.4 L506.82,194.9 L506.72,194.4 L506.63,193.9 L506.55,193.4 L506.46,192.9 L506.38,192.4 L506.30,191.9 L506.23,191.4 L506.18,190.9 L506.13,190.4 L506.09,189.9 L506.07,189.4 L506.04,188.9 L506.02,188.4 L506.00,187.9 L506.00,187.4Z" fill="#c3dc8a" stroke="#333333" stroke-width="1.4" stroke-linejoin="round"/>
<path d="M577.60,260.5 L577.55,261.0 L577.48,261.5 L577.40,262.0 L577.29,262.5 L577.15,263.0 L576.99,263.5 L576.80,264.0 L576.59,264.5 L576.33,265.0 L576.04,265.5 L575.70,266.0 L575.30,266.5 L574.82,267.0 L574.28,267.5 L573.70,268.0 L573.06,268.5 L572.33,269.0 L571.57,269.5 L570.80,270.0 L570.02,270.5 L569.22,271.0 L568.42,271.5 L567.65,272.0 L566.91,272.5 L566.19,273.0 L565.50,273.5 L564.85,274.0 L564.24,274.5 L563.66,275.0 L563.11,275.5 L562.60,276.0 L562.13,276.5 L561.69,277.0 L561.28,277.5 L560.90,278.0 L560.53,278.5 L560.17,279.0 L559.85,279.5 L559.60,280.0 L559.41,280.5 L559.25,281.0 L559.11,281.5 L559.00,282.0 L558.90,282.5 L558.80,283.0 L558.73,283.5 L558.70,284.0 L558.71,284.5 L558.73,285.0 L558.76,285.5 L558.80,286.0 L558.87,286.5 L558.99,287.0 L559.14,287.5 L559.30,288.0 L559.47,288.5 L559.66,289.0 L559.87,289.5 L560.10,290.0 L560.36,290.5 L560.64,291.0 L560.96,291.5 L561.30,292.0 L561.69,292.5 L562.14,293.0 L562.61,293.5 L563.10,294.0 L563.61,294.5 L564.14,295.0 L564.69,295.5 L565.25,296.0 L565.83,296.5 L566.43,297.0 L567.03,297.5 L567.60,298.0 L568.16,298.5 L568.73,299.0 L569.25,299.5 L569.70,300.0 L570.08,300.5 L570.43,301.0 L570.74,301.5 L571.00,302.0 L571.24,302.5 L571.45,303.0 L571.63,303.5 L571.75,304.0 L571.83,304.5 L571.91,305.0 L571.98,305.5 L572.03,306.0 L572.08,306.5 L572.12,307.0 L572.14,307.5 L572.15,308.0 L572.14,308.5 L572.13,309.0 L572.11,309.5 L572.07,310.0 L572.04,310.5 L571.99,311.0 L571.95,311.5 L571.90,312.0 L571.84,312.5 L571.75,313.0 L571.65,313.5 L571.55,314.0 L571.44,314.5 L571.32,315.0 L571.19,315.5 L571.05,316.0 L570.91,316.5 L570.76,317.0 L570.61,317.5 L570.45,318.0 L570.29,318.5 L570.11,319.0 L569.93,319.5 L569.73,320.0 L569.54,320.5 L569.34,321.0 L569.15,321.5 L568.95,322.0 L568.75,322.5 L568.55,323.0 L568.35,323.5 L568.15,324.0 L567.94,324.5 L567.74,325.0 L567.54,325.5 L567.35,326.0 L567.14,326.5 L566.90,327.0 L566.66,327.5 L566.45,328.0 L566.30,328.5 L566.25,329.0 L566.27,329.5 L566.33,330.0 L566.43,330.5 L566.55,331.0 L566.70,331.5 L566.97,332.0 L567.43,332.5 L568.01,333.0 L568.66,333.5 L569.30,334.0 L569.99,334.5 L570.77,335.0 L571.59,335.5 L572.39,336.0 L573.15,336.5 L573.91,337.0 L574.67,337.5 L575.37,338.0 L575.95,338.5 L576.43,339.0 L576.88,339.5 L577.24,340.0 L577.47,340.5 L577.58,341.0 L577.60,341.5 L577.60,341.5 L577.62,341.0 L577.73,340.5 L577.96,340.0 L578.32,339.5 L578.77,339.0 L579.25,338.5 L579.83,338.0 L580.53,337.5 L581.29,337.0 L582.05,336.5 L582.81,336.0 L583.61,335.5 L584.43,335.0 L585.21,334.5 L585.90,334.0 L586.54,333.5 L587.19,333.0 L587.77,332.5 L588.23,332.0 L588.50,331.5 L588.65,331.0 L588.77,330.5 L588.87,330.0 L588.93,329.5 L588.95,329.0 L588.90,328.5 L588.75,328.0 L588.54,327.5 L588.30,327.0 L588.06,326.5 L587.85,326.0 L587.66,325.5 L587.46,325.0 L587.26,324.5 L587.05,324.0 L586.85,323.5 L586.65,323.0 L586.45,322.5 L586.25,322.0 L586.05,321.5 L585.86,321.0 L585.66,320.5 L585.47,320.0 L585.27,319.5 L585.09,319.0 L584.91,318.5 L584.75,318.0 L584.59,317.5 L584.44,317.0 L584.29,316.5 L584.15,316.0 L584.01,315.5 L583.88,315.0 L583.76,314.5 L583.65,314.0 L583.55,313.5 L583.45,313.0 L583.36,312.5 L583.30,312.0 L583.25,311.5 L583.21,311.0 L583.16,310.5 L583.13,310.0 L583.09,309.5 L583.07,309.0 L583.06,308.5 L583.05,308.0 L583.06,307.5 L583.08,307.0 L583.12,306.5 L583.17,306.0 L583.22,305.5 L583.29,305.0 L583.37,304.5 L583.45,304.0 L583.57,303.5 L583.75,303.0 L583.96,302.5 L584.20,302.0 L584.46,301.5 L584.77,301.0 L585.12,300.5 L585.50,300.0 L585.95,299.5 L586.47,299.0 L587.04,298.5 L587.60,298.0 L588.17,297.5 L588.77,297.0 L589.37,296.5 L589.95,296.0 L590.51,295.5 L591.06,295.0 L591.59,294.5 L592.10,294.0 L592.59,293.5 L593.06,293.0 L593.51,292.5 L593.90,292.0 L594.25,291.5 L594.56,291.0 L594.85,290.5 L595.10,290.0 L595.33,289.5 L595.54,289.0 L595.73,288.5 L595.90,288.0 L596.06,287.5 L596.21,287.0 L596.33,286.5 L596.40,286.0 L596.44,285.5 L596.47,285.0 L596.49,284.5 L596.50,284.0 L596.47,283.5 L596.40,283.0 L596.30,282.5 L596.20,282.0 L596.09,281.5 L595.95,281.0 L595.79,280.5 L595.60,280.0 L595.35,279.5 L595.03,279.0 L594.67,278.5 L594.30,278.0 L593.92,277.5 L593.51,277.0 L593.07,276.5 L592.60,276.0 L592.09,275.5 L591.54,275.0 L590.96,274.5 L590.35,274.0 L589.70,273.5 L589.01,273.0 L588.29,272.5 L587.55,272.0 L586.78,271.5 L585.98,271.0 L585.18,270.5 L584.40,270.0 L583.63,269.5 L582.87,269.0 L582.14,268.5 L581.50,268.0 L580.92,267.5 L580.38,267.0 L579.90,266.5 L579.50,266.0 L579.16,265.5 L578.87,265.0 L578.61,264.5 L578.40,264.0 L578.21,263.5 L578.05,263.0 L577.91,262.5 L577.80,262.0 L577.72,261.5 L577.65,261.0 L577.60,260.5Z" fill="#95c673" stroke="#333333" stroke-width="1.4" stroke-linejoin="round"/>
<path d="M649.10,283.0 L649.06,283.5 L649.00,284.0 L648.90,284.5 L648.75,285.0 L648.54,285.5 L648.30,286.0 L647.98,286.5 L647.54,287.0 L646.99,287.5 L646.35,288.0 L645.50,288.5 L644.40,289.0 L643.16,289.5 L641.90,290.0 L640.60,290.5 L639.20,291.0 L637.77,291.5 L636.35,292.0 L634.95,292.5 L633.54,293.0 L632.15,293.5 L630.80,294.0 L629.46,294.5 L628.14,295.0 L626.88,295.5 L625.75,296.0 L624.70,296.5 L623.70,297.0 L622.82,297.5 L622.15,298.0 L621.60,298.5 L621.14,299.0 L620.95,299.5 L621.04,300.0 L621.30,300.5 L621.68,301.0 L622.14,301.5 L622.66,302.0 L623.51,302.5 L624.66,303.0 L625.93,303.5 L627.13,304.0 L628.34,304.5 L629.59,305.0 L630.81,305.5 L631.91,306.0 L632.97,306.5 L633.98,307.0 L634.86,307.5 L635.56,308.0 L636.17,308.5 L636.70,309.0 L637.11,309.5 L637.40,310.0 L637.66,310.5 L637.88,311.0 L638.06,311.5 L638.17,312.0 L638.20,312.5 L638.14,313.0 L638.03,313.5 L637.89,314.0 L637.73,314.5 L637.59,315.0 L637.40,315.5 L637.20,316.0 L637.02,316.5 L636.91,317.0 L636.91,317.5 L636.98,318.0 L637.08,318.5 L637.21,319.0 L637.35,319.5 L637.54,320.0 L637.80,320.5 L638.07,321.0 L638.32,321.5 L638.47,322.0 L638.60,322.5 L638.70,323.0 L638.79,323.5 L638.84,324.0 L638.85,324.5 L638.81,325.0 L638.74,325.5 L638.63,326.0 L638.51,326.5 L638.32,327.0 L637.95,327.5 L637.44,328.0 L636.84,328.5 L636.22,329.0 L635.55,329.5 L634.73,330.0 L633.90,330.5 L633.21,331.0 L632.67,331.5 L632.14,332.0 L631.71,332.5 L631.51,333.0 L631.60,333.5 L631.95,334.0 L632.46,334.5 L633.24,335.0 L634.71,335.5 L636.49,336.0 L638.15,336.5 L639.86,337.0 L641.54,337.5 L643.01,338.0 L644.38,338.5 L645.60,339.0 L646.58,339.5 L647.42,340.0 L648.13,340.5 L648.60,341.0 L648.88,341.5 L649.09,342.0 L649.10,342.5 L649.10,342.5 L649.11,342.0 L649.32,341.5 L649.60,341.0 L650.07,340.5 L650.78,340.0 L651.62,339.5 L652.60,339.0 L653.82,338.5 L655.19,338.0 L656.66,337.5 L658.34,337.0 L660.05,336.5 L661.71,336.0 L663.49,335.5 L664.96,335.0 L665.74,334.5 L666.25,334.0 L666.60,333.5 L666.69,333.0 L666.49,332.5 L666.06,332.0 L665.53,331.5 L664.99,331.0 L664.30,330.5 L663.47,330.0 L662.65,329.5 L661.98,329.0 L661.36,328.5 L660.76,328.0 L660.25,327.5 L659.88,327.0 L659.69,326.5 L659.57,326.0 L659.46,325.5 L659.39,325.0 L659.35,324.5 L659.36,324.0 L659.41,323.5 L659.50,323.0 L659.61,322.5 L659.73,322.0 L659.88,321.5 L660.13,321.0 L660.40,320.5 L660.66,320.0 L660.85,319.5 L660.99,319.0 L661.12,318.5 L661.22,318.0 L661.29,317.5 L661.29,317.0 L661.18,316.5 L661.00,316.0 L660.80,315.5 L660.61,315.0 L660.47,314.5 L660.31,314.0 L660.17,313.5 L660.06,313.0 L660.00,312.5 L660.03,312.0 L660.14,311.5 L660.32,311.0 L660.54,310.5 L660.80,310.0 L661.09,309.5 L661.50,309.0 L662.03,308.5 L662.64,308.0 L663.34,307.5 L664.22,307.0 L665.23,306.5 L666.29,306.0 L667.39,305.5 L668.61,305.0 L669.86,304.5 L671.07,304.0 L672.27,303.5 L673.54,303.0 L674.69,302.5 L675.54,302.0 L676.06,301.5 L676.52,301.0 L676.90,300.5 L677.16,300.0 L677.25,299.5 L677.06,299.0 L676.60,298.5 L676.05,298.0 L675.38,297.5 L674.50,297.0 L673.50,296.5 L672.45,296.0 L671.32,295.5 L670.06,295.0 L668.74,294.5 L667.40,294.0 L666.05,293.5 L664.66,293.0 L663.25,292.5 L661.85,292.0 L660.43,291.5 L659.00,291.0 L657.60,290.5 L656.30,290.0 L655.04,289.5 L653.80,289.0 L652.70,288.5 L651.85,288.0 L651.21,287.5 L650.66,287.0 L650.22,286.5 L649.90,286.0 L649.66,285.5 L649.45,285.0 L649.30,284.5 L649.20,284.0 L649.14,283.5 L649.10,283.0Z" fill="#61ac68" stroke="#333333" stroke-width="1.4" stroke-linejoin="round"/>
<path d="M720.70,135.0 L720.70,135.5 L720.67,136.0 L720.65,136.5 L720.62,137.0 L720.59,137.5 L720.56,138.0 L720.53,138.5 L720.49,139.0 L720.45,139.5 L720.40,140.0 L720.34,140.5 L720.27,141.0 L720.19,141.5 L720.10,142.0 L720.00,142.5 L719.90,143.0 L719.80,143.5 L719.70,144.0 L719.60,144.5 L719.48,145.0 L719.37,145.5 L719.25,146.0 L719.12,146.5 L719.00,147.0 L718.87,147.5 L718.75,148.0 L718.63,148.5 L718.50,149.0 L718.38,149.5 L718.25,150.0 L718.13,150.5 L718.00,151.0 L717.88,151.5 L717.75,152.0 L717.62,152.5 L717.50,153.0 L717.37,153.5 L717.24,154.0 L717.11,154.5 L716.99,155.0 L716.87,155.5 L716.75,156.0 L716.64,156.5 L716.52,157.0 L716.41,157.5 L716.30,158.0 L716.20,158.5 L716.09,159.0 L715.99,159.5 L715.90,160.0 L715.81,160.5 L715.72,161.0 L715.64,161.5 L715.55,162.0 L715.47,162.5 L715.40,163.0 L715.32,163.5 L715.25,164.0 L715.18,164.5 L715.11,165.0 L715.04,165.5 L714.97,166.0 L714.91,166.5 L714.85,167.0 L714.80,167.5 L714.75,168.0 L714.71,168.5 L714.67,169.0 L714.63,169.5 L714.59,170.0 L714.56,170.5 L714.53,171.0 L714.50,171.5 L714.47,172.0 L714.44,172.5 L714.41,173.0 L714.38,173.5 L714.35,174.0 L714.32,174.5 L714.29,175.0 L714.27,175.5 L714.24,176.0 L714.21,176.5 L714.19,177.0 L714.16,177.5 L714.14,178.0 L714.11,178.5 L714.09,179.0 L714.06,179.5 L714.04,180.0 L714.02,180.5 L713.99,181.0 L713.97,181.5 L713.95,182.0 L713.93,182.5 L713.91,183.0 L713.89,183.5 L713.87,184.0 L713.85,184.5 L713.83,185.0 L713.81,185.5 L713.79,186.0 L713.77,186.5 L713.76,187.0 L713.74,187.5 L713.72,188.0 L713.70,188.5 L713.69,189.0 L713.67,189.5 L713.65,190.0 L713.63,190.5 L713.61,191.0 L713.59,191.5 L713.57,192.0 L713.54,192.5 L713.52,193.0 L713.50,193.5 L713.49,194.0 L713.47,194.5 L713.46,195.0 L713.45,195.5 L713.45,196.0 L713.45,196.5 L713.45,197.0 L713.46,197.5 L713.46,198.0 L713.47,198.5 L713.48,199.0 L713.49,199.5 L713.50,200.0 L713.52,200.5 L713.57,201.0 L713.63,201.5 L713.70,202.0 L713.79,202.5 L713.88,203.0 L713.97,203.5 L714.05,204.0 L714.14,204.5 L714.23,205.0 L714.33,205.5 L714.43,206.0 L714.54,206.5 L714.64,207.0 L714.75,207.5 L714.85,208.0 L714.95,208.5 L715.05,209.0 L715.15,209.5 L715.25,210.0 L715.35,210.5 L715.45,211.0 L715.55,211.5 L715.65,212.0 L715.75,212.5 L715.85,213.0 L715.95,213.5 L716.05,214.0 L716.15,214.5 L716.25,215.0 L716.35,215.5 L716.45,216.0 L716.55,216.5 L716.64,217.0 L716.73,217.5 L716.83,218.0 L716.92,218.5 L717.01,219.0 L717.10,219.5 L717.20,220.0 L717.30,220.5 L717.40,221.0 L717.51,221.5 L717.61,222.0 L717.71,222.5 L717.81,223.0 L717.91,223.5 L718.00,224.0 L718.09,224.5 L718.17,225.0 L718.26,225.5 L718.34,226.0 L718.41,226.5 L718.48,227.0 L718.55,227.5 L718.60,228.0 L718.65,228.5 L718.69,229.0 L718.74,229.5 L718.77,230.0 L718.81,230.5 L718.84,231.0 L718.87,231.5 L718.90,232.0 L718.93,232.5 L718.95,233.0 L718.97,233.5 L719.00,234.0 L719.02,234.5 L719.04,235.0 L719.06,235.5 L719.08,236.0 L719.10,236.5 L719.12,237.0 L719.13,237.5 L719.15,238.0 L719.16,238.5 L719.18,239.0 L719.19,239.5 L719.20,240.0 L719.21,240.5 L719.22,241.0 L719.23,241.5 L719.24,242.0 L719.25,242.5 L719.26,243.0 L719.27,243.5 L719.28,244.0 L719.29,244.5 L719.30,245.0 L719.31,245.5 L719.32,246.0 L719.33,246.5 L719.33,247.0 L719.34,247.5 L719.34,248.0 L719.35,248.5 L719.35,249.0 L719.35,249.5 L719.35,250.0 L719.35,250.5 L719.35,251.0 L719.35,251.5 L719.35,252.0 L719.35,252.5 L719.35,253.0 L719.35,253.5 L719.35,254.0 L719.35,254.5 L719.35,255.0 L719.35,255.5 L719.35,256.0 L719.35,256.5 L719.35,257.0 L719.35,257.5 L719.35,258.0 L719.35,258.5 L719.35,259.0 L719.35,259.5 L719.35,260.0 L719.35,260.5 L719.35,261.0 L719.35,261.5 L719.35,262.0 L719.35,262.5 L719.35,263.0 L719.35,263.5 L719.35,264.0 L719.35,264.5 L719.35,265.0 L719.35,265.5 L719.35,266.0 L719.35,266.5 L719.35,267.0 L719.35,267.5 L719.35,268.0 L719.35,268.5 L719.35,269.0 L719.35,269.5 L719.35,270.0 L719.35,270.5 L719.35,271.0 L719.35,271.5 L719.34,272.0 L719.34,272.5 L719.33,273.0 L719.33,273.5 L719.32,274.0 L719.31,274.5 L719.31,275.0 L719.30,275.5 L719.29,276.0 L719.28,276.5 L719.27,277.0 L719.26,277.5 L719.25,278.0 L719.24,278.5 L719.23,279.0 L719.21,279.5 L719.20,280.0 L719.19,280.5 L719.18,281.0 L719.16,281.5 L719.15,282.0 L719.14,282.5 L719.12,283.0 L719.10,283.5 L719.08,284.0 L719.05,284.5 L719.02,285.0 L719.00,285.5 L718.97,286.0 L718.94,286.5 L718.90,287.0 L718.87,287.5 L718.84,288.0 L718.80,288.5 L718.77,289.0 L718.73,289.5 L718.70,290.0 L718.66,290.5 L718.63,291.0 L718.59,291.5 L718.55,292.0 L718.51,292.5 L718.46,293.0 L718.42,293.5 L718.37,294.0 L718.33,294.5 L718.28,295.0 L718.24,295.5 L718.19,296.0 L718.14,296.5 L718.09,297.0 L718.05,297.5 L718.00,298.0 L717.95,298.5 L717.91,299.0 L717.86,299.5 L717.81,300.0 L717.76,300.5 L717.71,301.0 L717.66,301.5 L717.61,302.0 L717.56,302.5 L717.51,303.0 L717.46,303.5 L717.41,304.0 L717.36,304.5 L717.31,305.0 L717.25,305.5 L717.20,306.0 L717.14,306.5 L717.09,307.0 L717.03,307.5 L716.97,308.0 L716.90,308.5 L716.84,309.0 L716.78,309.5 L716.72,310.0 L716.66,310.5 L716.61,311.0 L716.55,311.5 L716.50,312.0 L716.45,312.5 L716.39,313.0 L716.33,313.5 L716.28,314.0 L716.23,314.5 L716.19,315.0 L716.16,315.5 L716.15,316.0 L716.15,316.5 L716.15,317.0 L716.15,317.5 L716.15,318.0 L716.15,318.5 L716.15,319.0 L716.16,319.5 L716.19,320.0 L716.24,320.5 L716.31,321.0 L716.40,321.5 L716.50,322.0 L716.61,322.5 L716.73,323.0 L716.84,323.5 L716.95,324.0 L717.06,324.5 L717.19,325.0 L717.33,325.5 L717.48,326.0 L717.64,326.5 L717.79,327.0 L717.95,327.5 L718.10,328.0 L718.25,328.5 L718.41,329.0 L718.58,329.5 L718.74,330.0 L718.90,330.5 L719.06,331.0 L719.21,331.5 L719.35,332.0 L719.49,332.5 L719.62,333.0 L719.76,333.5 L719.89,334.0 L720.01,334.5 L720.12,335.0 L720.22,335.5 L720.30,336.0 L720.37,336.5 L720.43,337.0 L720.49,337.5 L720.54,338.0 L720.58,338.5 L720.63,339.0 L720.66,339.5 L720.70,340.0 L720.70,340.0 L720.74,339.5 L720.77,339.0 L720.82,338.5 L720.86,338.0 L720.91,337.5 L720.97,337.0 L721.03,336.5 L721.10,336.0 L721.18,335.5 L721.28,335.0 L721.39,334.5 L721.51,334.0 L721.64,333.5 L721.78,333.0 L721.91,332.5 L722.05,332.0 L722.19,331.5 L722.34,331.0 L722.50,330.5 L722.66,330.0 L722.82,329.5 L722.99,329.0 L723.15,328.5 L723.30,328.0 L723.45,327.5 L723.61,327.0 L723.76,326.5 L723.92,326.0 L724.07,325.5 L724.21,325.0 L724.34,324.5 L724.45,324.0 L724.56,323.5 L724.67,323.0 L724.79,322.5 L724.90,322.0 L725.00,321.5 L725.09,321.0 L725.16,320.5 L725.21,320.0 L725.24,319.5 L725.25,319.0 L725.25,318.5 L725.25,318.0 L725.25,317.5 L725.25,317.0 L725.25,316.5 L725.25,316.0 L725.24,315.5 L725.21,315.0 L725.17,314.5 L725.12,314.0 L725.07,313.5 L725.01,313.0 L724.95,312.5 L724.90,312.0 L724.85,311.5 L724.79,311.0 L724.74,310.5 L724.68,310.0 L724.62,309.5 L724.56,309.0 L724.50,308.5 L724.43,308.0 L724.37,307.5 L724.31,307.0 L724.26,306.5 L724.20,306.0 L724.15,305.5 L724.09,305.0 L724.04,304.5 L723.99,304.0 L723.94,303.5 L723.89,303.0 L723.84,302.5 L723.79,302.0 L723.74,301.5 L723.69,301.0 L723.64,300.5 L723.59,300.0 L723.54,299.5 L723.49,299.0 L723.45,298.5 L723.40,298.0 L723.35,297.5 L723.31,297.0 L723.26,296.5 L723.21,296.0 L723.16,295.5 L723.12,295.0 L723.07,294.5 L723.03,294.0 L722.98,293.5 L722.94,293.0 L722.89,292.5 L722.85,292.0 L722.81,291.5 L722.77,291.0 L722.74,290.5 L722.70,290.0 L722.67,289.5 L722.63,289.0 L722.60,288.5 L722.56,288.0 L722.53,287.5 L722.50,287.0 L722.46,286.5 L722.43,286.0 L722.40,285.5 L722.38,285.0 L722.35,284.5 L722.32,284.0 L722.30,283.5 L722.28,283.0 L722.26,282.5 L722.25,282.0 L722.24,281.5 L722.22,281.0 L722.21,280.5 L722.20,280.0 L722.19,279.5 L722.17,279.0 L722.16,278.5 L722.15,278.0 L722.14,277.5 L722.13,277.0 L722.12,276.5 L722.11,276.0 L722.10,275.5 L722.09,275.0 L722.09,274.5 L722.08,274.0 L722.07,273.5 L722.07,273.0 L722.06,272.5 L722.06,272.0 L722.05,271.5 L722.05,271.0 L722.05,270.5 L722.05,270.0 L722.05,269.5 L722.05,269.0 L722.05,268.5 L722.05,268.0 L722.05,267.5 L722.05,267.0 L722.05,266.5 L722.05,266.0 L722.05,265.5 L722.05,265.0 L722.05,264.5 L722.05,264.0 L722.05,263.5 L722.05,263.0 L722.05,262.5 L722.05,262.0 L722.05,261.5 L722.05,261.0 L722.05,260.5 L722.05,260.0 L722.05,259.5 L722.05,259.0 L722.05,258.5 L722.05,258.0 L722.05,257.5 L722.05,257.0 L722.05,256.5 L722.05,256.0 L722.05,255.5 L722.05,255.0 L722.05,254.5 L722.05,254.0 L722.05,253.5 L722.05,253.0 L722.05,252.5 L722.05,252.0 L722.05,251.5 L722.05,251.0 L722.05,250.5 L722.05,250.0 L722.05,249.5 L722.05,249.0 L722.05,248.5 L722.06,248.0 L722.06,247.5 L722.07,247.0 L722.07,246.5 L722.08,246.0 L722.09,245.5 L722.10,245.0 L722.11,244.5 L722.12,244.0 L722.13,243.5 L722.14,243.0 L722.15,242.5 L722.16,242.0 L722.17,241.5 L722.18,241.0 L722.19,240.5 L722.20,240.0 L722.21,239.5 L722.22,239.0 L722.24,238.5 L722.25,238.0 L722.27,237.5 L722.28,237.0 L722.30,236.5 L722.32,236.0 L722.34,235.5 L722.36,235.0 L722.38,234.5 L722.40,234.0 L722.43,233.5 L722.45,233.0 L722.47,232.5 L722.50,232.0 L722.53,231.5 L722.56,231.0 L722.59,230.5 L722.63,230.0 L722.66,229.5 L722.71,229.0 L722.75,228.5 L722.80,228.0 L722.85,227.5 L722.92,227.0 L722.99,226.5 L723.06,226.0 L723.14,225.5 L723.23,225.0 L723.31,224.5 L723.40,224.0 L723.49,223.5 L723.59,223.0 L723.69,222.5 L723.79,222.0 L723.89,221.5 L724.00,221.0 L724.10,220.5 L724.20,220.0 L724.30,219.5 L724.39,219.0 L724.48,218.5 L724.58,218.0 L724.67,217.5 L724.76,217.0 L724.85,216.5 L724.95,216.0 L725.05,215.5 L725.15,215.0 L725.25,214.5 L725.35,214.0 L725.45,213.5 L725.55,213.0 L725.65,212.5 L725.75,212.0 L725.85,211.5 L725.95,211.0 L726.05,210.5 L726.15,210.0 L726.25,209.5 L726.35,209.0 L726.45,208.5 L726.55,208.0 L726.65,207.5 L726.76,207.0 L726.86,206.5 L726.97,206.0 L727.07,205.5 L727.17,205.0 L727.26,204.5 L727.35,204.0 L727.43,203.5 L727.52,203.0 L727.61,202.5 L727.70,202.0 L727.77,201.5 L727.83,201.0 L727.88,200.5 L727.90,200.0 L727.91,199.5 L727.92,199.0 L727.93,198.5 L727.94,198.0 L727.94,197.5 L727.95,197.0 L727.95,196.5 L727.95,196.0 L727.95,195.5 L727.94,195.0 L727.93,194.5 L727.91,194.0 L727.90,193.5 L727.88,193.0 L727.86,192.5 L727.83,192.0 L727.81,191.5 L727.79,191.0 L727.77,190.5 L727.75,190.0 L727.73,189.5 L727.71,189.0 L727.70,188.5 L727.68,188.0 L727.66,187.5 L727.64,187.0 L727.63,186.5 L727.61,186.0 L727.59,185.5 L727.57,185.0 L727.55,184.5 L727.53,184.0 L727.51,183.5 L727.49,183.0 L727.47,182.5 L727.45,182.0 L727.43,181.5 L727.41,181.0 L727.38,180.5 L727.36,180.0 L727.34,179.5 L727.31,179.0 L727.29,178.5 L727.26,178.0 L727.24,177.5 L727.21,177.0 L727.19,176.5 L727.16,176.0 L727.13,175.5 L727.11,175.0 L727.08,174.5 L727.05,174.0 L727.02,173.5 L726.99,173.0 L726.96,172.5 L726.93,172.0 L726.90,171.5 L726.87,171.0 L726.84,170.5 L726.81,170.0 L726.77,169.5 L726.73,169.0 L726.69,168.5 L726.65,168.0 L726.60,167.5 L726.55,167.0 L726.49,166.5 L726.43,166.0 L726.36,165.5 L726.29,165.0 L726.22,164.5 L726.15,164.0 L726.08,163.5 L726.00,163.0 L725.93,162.5 L725.85,162.0 L725.76,161.5 L725.68,161.0 L725.59,160.5 L725.50,160.0 L725.41,159.5 L725.31,159.0 L725.20,158.5 L725.10,158.0 L724.99,157.5 L724.88,157.0 L724.76,156.5 L724.65,156.0 L724.53,155.5 L724.41,155.0 L724.29,154.5 L724.16,154.0 L724.03,153.5 L723.90,153.0 L723.78,152.5 L723.65,152.0 L723.52,151.5 L723.40,151.0 L723.27,150.5 L723.15,150.0 L723.02,149.5 L722.90,149.0 L722.77,148.5 L722.65,148.0 L722.53,147.5 L722.40,147.0 L722.28,146.5 L722.15,146.0 L722.03,145.5 L721.92,145.0 L721.80,144.5 L721.70,144.0 L721.60,143.5 L721.50,143.0 L721.40,142.5 L721.30,142.0 L721.21,141.5 L721.13,141.0 L721.06,140.5 L721.00,140.0 L720.95,139.5 L720.91,139.0 L720.87,138.5 L720.84,138.0 L720.81,137.5 L720.78,137.0 L720.75,136.5 L720.73,136.0 L720.70,135.5 L720.70,135.0Z" fill="#258650" stroke="#333333" stroke-width="1.4" stroke-linejoin="round"/>
<g stroke="#000" stroke-opacity="0.135" stroke-width="1">
<line x1="40.5" x2="756.5" y1="343.50" y2="343.50"/>
<line x1="40.5" x2="756.5" y1="292.50" y2="292.50"/>
<line x1="40.5" x2="756.5" y1="240.50" y2="240.50"/>
<line x1="40.5" x2="756.5" y1="189.50" y2="189.50"/>
<line x1="40.5" x2="756.5" y1="137.50" y2="137.50"/>
<line x1="40.5" x2="756.5" y1="86.50" y2="86.50"/>
<line x1="40.5" x2="756.5" y1="35.50" y2="35.50"/>
</g>
<line x1="76.4" x2="76.4" y1="165.0" y2="180.0" stroke="#333" stroke-width="1.25"/>
<line x1="76.4" x2="76.4" y1="336.5" y2="352.2" stroke="#333" stroke-width="1.25"/>
<line x1="76.4" x2="76.4" y1="179.5" y2="337.0" stroke="#333333" stroke-width="1.1"/>
<line x1="76.4" x2="76.4" y1="228.4" y2="290.4" stroke="#333333" stroke-width="2.8"/>
<circle cx="76.4" cy="246.5" r="0.6" fill="#fff"/>
<line x1="148.0" x2="148.0" y1="171.3" y2="187.8" stroke="#333" stroke-width="1.25"/>
<line x1="148.0" x2="148.0" y1="335.8" y2="349.8" stroke="#333" stroke-width="1.25"/>
<line x1="148.0" x2="148.0" y1="187.3" y2="336.3" stroke="#333333" stroke-width="1.1"/>
<line x1="148.0" x2="148.0" y1="216.0" y2="287.7" stroke="#333333" stroke-width="2.8"/>
<circle cx="148.0" cy="235.3" r="0.6" fill="#fff"/>
<line x1="219.6" x2="219.6" y1="193.4" y2="205.9" stroke="#333" stroke-width="1.25"/>
<line x1="219.6" x2="219.6" y1="334.4" y2="339.4" stroke="#333" stroke-width="1.25"/>
<line x1="219.6" x2="219.6" y1="205.4" y2="334.9" stroke="#333333" stroke-width="1.1"/>
<line x1="219.6" x2="219.6" y1="250.6" y2="303.5" stroke="#333333" stroke-width="2.8"/>
<circle cx="219.6" cy="271.1" r="0.6" fill="#fff"/>
<line x1="291.2" x2="291.2" y1="162.0" y2="180.5" stroke="#333" stroke-width="1.25"/>
<line x1="291.2" x2="291.2" y1="335.0" y2="346.6" stroke="#333" stroke-width="1.25"/>
<line x1="291.2" x2="291.2" y1="180.0" y2="335.5" stroke="#333333" stroke-width="1.1"/>
<line x1="291.2" x2="291.2" y1="217.6" y2="286.7" stroke="#333333" stroke-width="2.8"/>
<circle cx="291.2" cy="237.5" r="0.6" fill="#fff"/>
<line x1="362.8" x2="362.8" y1="35.1" y2="158.6" stroke="#333" stroke-width="1.25"/>
<line x1="362.8" x2="362.8" y1="333.6" y2="348.6" stroke="#333" stroke-width="1.25"/>
<line x1="362.8" x2="362.8" y1="158.1" y2="334.1" stroke="#333333" stroke-width="1.1"/>
<line x1="362.8" x2="362.8" y1="203.6" y2="281.8" stroke="#333333" stroke-width="2.8"/>
<circle cx="362.8" cy="227.0" r="0.6" fill="#fff"/>
<line x1="434.4" x2="434.4" y1="197.8" y2="221.8" stroke="#333" stroke-width="1.25"/>
<line x1="434.4" x2="434.4" y1="342.3" y2="348.7" stroke="#333" stroke-width="1.25"/>
<line x1="434.4" x2="434.4" y1="221.3" y2="342.8" stroke="#333333" stroke-width="1.1"/>
<line x1="434.4" x2="434.4" y1="253.9" y2="311.5" stroke="#333333" stroke-width="2.8"/>
<circle cx="434.4" cy="270.8" r="0.6" fill="#fff"/>
<line x1="506.0" x2="506.0" y1="169.9" y2="187.9" stroke="#333" stroke-width="1.25"/>
<line x1="506.0" x2="506.0" y1="334.9" y2="352.4" stroke="#333" stroke-width="1.25"/>
<line x1="506.0" x2="506.0" y1="187.4" y2="335.4" stroke="#333333" stroke-width="1.1"/>
<line x1="506.0" x2="506.0" y1="220.9" y2="283.7" stroke="#333333" stroke-width="2.8"/>
<circle cx="506.0" cy="243.8" r="0.6" fill="#fff"/>
<line x1="577.6" x2="577.6" y1="253.0" y2="261.0" stroke="#333" stroke-width="1.25"/>
<line x1="577.6" x2="577.6" y1="341.0" y2="349.2" stroke="#333" stroke-width="1.25"/>
<line x1="577.6" x2="577.6" y1="260.5" y2="341.5" stroke="#333333" stroke-width="1.1"/>
<line x1="577.6" x2="577.6" y1="281.0" y2="317.6" stroke="#333333" stroke-width="2.8"/>
<circle cx="577.6" cy="292.3" r="0.6" fill="#fff"/>
<line x1="649.1" x2="649.1" y1="273.5" y2="283.5" stroke="#333" stroke-width="1.25"/>
<line x1="649.1" x2="649.1" y1="342.0" y2="345.4" stroke="#333" stroke-width="1.25"/>
<line x1="649.1" x2="649.1" y1="283.0" y2="342.5" stroke="#333333" stroke-width="1.1"/>
<line x1="649.1" x2="649.1" y1="297.9" y2="325.5" stroke="#333333" stroke-width="2.8"/>
<circle cx="649.1" cy="307.7" r="0.6" fill="#fff"/>
<line x1="720.7" x2="720.7" y1="96.0" y2="135.5" stroke="#333" stroke-width="1.25"/>
<line x1="720.7" x2="720.7" y1="339.5" y2="359.8" stroke="#333" stroke-width="1.25"/>
<line x1="720.7" x2="720.7" y1="135.0" y2="340.0" stroke="#333333" stroke-width="1.1"/>
<line x1="720.7" x2="720.7" y1="178.7" y2="276.9" stroke="#333333" stroke-width="2.8"/>
<circle cx="720.7" cy="205.5" r="0.6" fill="#fff"/>
<rect x="40.5" y="19.5" width="716.0" height="356.0" fill="none" stroke="#2e2e2e" stroke-width="1.1"/>
<g stroke="#222" stroke-width="1">
<line x1="38.0" x2="40.5" y1="343.50" y2="343.50"/>
<line x1="38.0" x2="40.5" y1="292.50" y2="292.50"/>
<line x1="38.0" x2="40.5" y1="240.50" y2="240.50"/>
<line x1="38.0" x2="40.5" y1="189.50" y2="189.50"/>
<line x1="38.0" x2="40.5" y1="137.50" y2="137.50"/>
<line x1="38.0" x2="40.5" y1="86.50" y2="86.50"/>
<line x1="38.0" x2="40.5" y1="35.50" y2="35.50"/>
<line x1="76.4" x2="76.4" y1="375.5" y2="378.0"/>
<line x1="148.0" x2="148.0" y1="375.5" y2="378.0"/>
<line x1="219.6" x2="219.6" y1="375.5" y2="378.0"/>
<line x1="291.2" x2="291.2" y1="375.5" y2="378.0"/>
<line x1="362.8" x2="362.8" y1="375.5" y2="378.0"/>
<line x1="434.4" x2="434.4" y1="375.5" y2="378.0"/>
<line x1="506.0" x2="506.0" y1="375.5" y2="378.0"/>
<line x1="577.6" x2="577.6" y1="375.5" y2="378.0"/>
<line x1="649.1" x2="649.1" y1="375.5" y2="378.0"/>
<line x1="720.7" x2="720.7" y1="375.5" y2="378.0"/>
</g>
<g class="tk" font-size="6.5" text-anchor="end">
<text x="36.3" y="345.80">0</text>
<text x="36.3" y="294.80">200</text>
<text x="36.3" y="242.80">400</text>
<text x="36.3" y="191.80">600</text>
<text x="36.3" y="139.80">800</text>
<text x="36.3" y="88.80">1000</text>
<text x="36.3" y="37.80">1200</text>
</g>
<g class="tk" font-size="6.5" text-anchor="middle">
<text transform="translate(78.3,382.1) rotate(-90)">0</text>
<text transform="translate(149.9,382.1) rotate(-90)">1</text>
<text transform="translate(221.5,382.1) rotate(-90)">2</text>
<text transform="translate(293.1,382.1) rotate(-90)">3</text>
<text transform="translate(364.7,382.1) rotate(-90)">4</text>
<text transform="translate(436.3,382.1) rotate(-90)">5</text>
<text transform="translate(507.9,382.1) rotate(-90)">6</text>
<text transform="translate(579.5,382.1) rotate(-90)">7</text>
<text transform="translate(651.0,382.1) rotate(-90)">8</text>
<text transform="translate(722.6,382.1) rotate(-90)">9</text>
</g>
<text x="398.7" y="396.8" font-size="12.6" text-anchor="middle">Sensors</text>
<text transform="translate(15.3,197.2) rotate(-90)" font-size="12.6" text-anchor="middle">Density</text>
<text x="398.8" y="15.6" font-size="12.77" font-weight="bold" text-anchor="middle">Violin Plot of Traffic Flow in 10 Sensors</text>
</svg></body></html>
